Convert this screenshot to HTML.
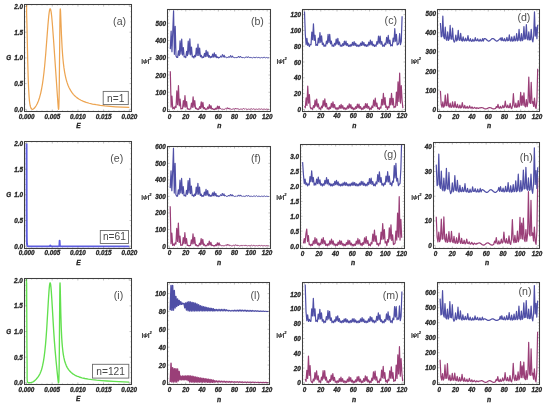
<!DOCTYPE html><html><head><meta charset="utf-8"><style>html,body{margin:0;padding:0;background:#fff;}svg{display:block;will-change:transform;}</style></head><body><svg width="550" height="406" viewBox="0 0 550 406" font-family="&quot;Liberation Sans&quot;, sans-serif">
<rect width="550" height="406" fill="#fff"/>
<clipPath id="ca"><rect x="24.5" y="4.6" width="106.80000000000001" height="106.60000000000001"/></clipPath>
<g clip-path="url(#ca)">
<path d="M26.60 4.00 L26.60 12.68 L26.95 24.68 L27.73 61.31 L28.15 76.75 L28.58 88.10 L29.10 96.91 L29.39 100.31 L29.72 103.03 L30.08 105.23 L30.49 106.89 L30.95 108.11 L31.48 108.89 L31.99 109.23 L32.56 109.29 L33.20 109.07 L33.92 108.56 L34.69 107.77 L35.49 106.74 L36.29 105.50 L37.06 104.07 L37.73 102.62 L38.38 101.04 L39.58 97.46 L40.67 93.30 L41.67 88.50 L42.47 83.80 L43.23 78.48 L43.96 72.52 L44.67 65.74 L45.71 54.03 L47.89 25.62 L48.76 15.91 L49.14 12.73 L49.50 10.52 L49.85 9.21 L50.02 8.87 L50.19 8.76 L50.31 8.81 L50.43 8.97 L50.67 9.60 L51.17 12.16 L51.70 16.54 L52.29 23.00 L53.53 39.60 L57.98 104.07 L58.30 107.88 L58.43 108.87 L58.54 109.28 L58.63 109.20 L58.71 108.71 L58.86 106.45 L59.12 96.59 L59.35 79.04 L59.90 22.32 L60.09 12.12 L60.19 9.59 L60.30 8.76 L60.43 9.55 L60.57 12.12 L61.47 35.11 L62.14 48.14 L62.53 53.84 L62.96 59.00 L63.44 63.66 L63.97 67.89 L64.61 72.07 L65.34 75.87 L66.14 79.30 L67.04 82.40 L68.02 85.17 L69.11 87.67 L70.57 90.40 L71.84 92.40 L73.34 94.33 L74.98 96.07 L76.80 97.62 L78.81 99.02 L81.03 100.27 L83.48 101.38 L86.19 102.37 L89.20 103.25 L92.52 104.03 L96.20 104.72 L100.30 105.34 L104.87 105.88 L109.98 106.36 L115.69 106.78 L122.10 107.16 L129.30 107.49" fill="none" stroke="#eda552" stroke-width="1.25" stroke-linejoin="round" stroke-opacity="1.0"/>
</g>
<rect x="24.50" y="4.50" width="107.00" height="107.00" fill="none" stroke="#404040" stroke-width="1.05"/>
<path d="M26.60 111.50v-2.0M26.60 4.50v2.0M52.28 111.50v-2.0M52.28 4.50v2.0M77.95 111.50v-2.0M77.95 4.50v2.0M103.62 111.50v-2.0M103.62 4.50v2.0M129.30 111.50v-2.0M129.30 4.50v2.0M31.74 111.50v-1.0M31.74 4.50v1.0M36.87 111.50v-1.0M36.87 4.50v1.0M42.01 111.50v-1.0M42.01 4.50v1.0M47.14 111.50v-1.0M47.14 4.50v1.0M57.41 111.50v-1.0M57.41 4.50v1.0M62.55 111.50v-1.0M62.55 4.50v1.0M67.68 111.50v-1.0M67.68 4.50v1.0M72.82 111.50v-1.0M72.82 4.50v1.0M83.09 111.50v-1.0M83.09 4.50v1.0M88.22 111.50v-1.0M88.22 4.50v1.0M93.36 111.50v-1.0M93.36 4.50v1.0M98.49 111.50v-1.0M98.49 4.50v1.0M108.76 111.50v-1.0M108.76 4.50v1.0M113.90 111.50v-1.0M113.90 4.50v1.0M119.03 111.50v-1.0M119.03 4.50v1.0M124.17 111.50v-1.0M124.17 4.50v1.0M24.50 109.30h2.0M131.50 109.30h-2.0M24.50 83.60h2.0M131.50 83.60h-2.0M24.50 57.90h2.0M131.50 57.90h-2.0M24.50 32.20h2.0M131.50 32.20h-2.0M24.50 6.50h2.0M131.50 6.50h-2.0M24.50 104.16h1.0M131.50 104.16h-1.0M24.50 99.02h1.0M131.50 99.02h-1.0M24.50 93.88h1.0M131.50 93.88h-1.0M24.50 88.74h1.0M131.50 88.74h-1.0M24.50 78.46h1.0M131.50 78.46h-1.0M24.50 73.32h1.0M131.50 73.32h-1.0M24.50 68.18h1.0M131.50 68.18h-1.0M24.50 63.04h1.0M131.50 63.04h-1.0M24.50 52.76h1.0M131.50 52.76h-1.0M24.50 47.62h1.0M131.50 47.62h-1.0M24.50 42.48h1.0M131.50 42.48h-1.0M24.50 37.34h1.0M131.50 37.34h-1.0M24.50 27.06h1.0M131.50 27.06h-1.0M24.50 21.92h1.0M131.50 21.92h-1.0M24.50 16.78h1.0M131.50 16.78h-1.0M24.50 11.64h1.0M131.50 11.64h-1.0" stroke="#404040" stroke-width="0.4" stroke-opacity="0.8" fill="none"/>
<text x="26.60" y="118.50" font-size="6.3" text-anchor="middle" font-weight="bold" font-style="italic" fill="#262626"  stroke="#262626" stroke-width="0.3">0.000</text>
<text x="52.28" y="118.50" font-size="6.3" text-anchor="middle" font-weight="bold" font-style="italic" fill="#262626"  stroke="#262626" stroke-width="0.3">0.005</text>
<text x="77.95" y="118.50" font-size="6.3" text-anchor="middle" font-weight="bold" font-style="italic" fill="#262626"  stroke="#262626" stroke-width="0.3">0.010</text>
<text x="103.62" y="118.50" font-size="6.3" text-anchor="middle" font-weight="bold" font-style="italic" fill="#262626"  stroke="#262626" stroke-width="0.3">0.015</text>
<text x="129.30" y="118.50" font-size="6.3" text-anchor="middle" font-weight="bold" font-style="italic" fill="#262626"  stroke="#262626" stroke-width="0.3">0.020</text>
<text x="22.90" y="111.85" font-size="6.3" text-anchor="end" font-weight="bold" font-style="italic" fill="#262626"  stroke="#262626" stroke-width="0.3">0.0</text>
<text x="22.90" y="86.15" font-size="6.3" text-anchor="end" font-weight="bold" font-style="italic" fill="#262626"  stroke="#262626" stroke-width="0.3">0.5</text>
<text x="22.90" y="60.45" font-size="6.3" text-anchor="end" font-weight="bold" font-style="italic" fill="#262626"  stroke="#262626" stroke-width="0.3">1.0</text>
<text x="22.90" y="34.75" font-size="6.3" text-anchor="end" font-weight="bold" font-style="italic" fill="#262626"  stroke="#262626" stroke-width="0.3">1.5</text>
<text x="22.90" y="9.05" font-size="6.3" text-anchor="end" font-weight="bold" font-style="italic" fill="#262626"  stroke="#262626" stroke-width="0.3">2.0</text>
<text x="8.70" y="60.45" font-size="6.3" text-anchor="middle" font-weight="bold" font-style="italic" fill="#262626"  stroke="#262626" stroke-width="0.3">G</text>
<text x="78.40" y="127.70" font-size="6.6" text-anchor="middle" font-weight="bold" font-style="italic" fill="#262626"  stroke="#262626" stroke-width="0.3">E</text>
<text x="119.60" y="25.35" font-size="10.6" text-anchor="middle" font-weight="normal" font-style="normal" fill="#505050" >(a)</text>
<rect x="103.2" y="91.4" width="25.10000000000001" height="13.199999999999989" fill="#fff" stroke="#6a6a6a" stroke-width="0.9"/>
<text x="115.75" y="101.50" font-size="10.2" text-anchor="middle" font-weight="normal" font-style="normal" fill="#4a4a4a" >n=1</text>
<clipPath id="ce"><rect x="24.5" y="141.5" width="106.80000000000001" height="106.6"/></clipPath>
<g clip-path="url(#ce)">
<path d="M26.60 143.61 L26.69 212.22 L26.78 235.59 L26.86 240.81 L26.97 243.70 L27.17 245.22 L27.32 245.66 L27.52 245.95 L27.81 246.14 L28.24 246.26 L29.94 246.37 L49.29 246.40 L49.57 246.37 L49.75 246.27 L50.18 245.58 L50.32 245.48 L50.47 245.59 L50.86 246.24 L51.20 246.39 L56.98 246.39 L58.58 246.32 L58.89 246.23 L59.09 246.09 L59.23 245.85 L59.33 245.48 L59.46 244.24 L59.62 240.75 L59.79 244.37 L59.94 245.62 L60.06 245.96 L60.23 246.17 L60.50 246.29 L60.93 246.35 L65.83 246.40 L129.30 246.41" fill="none" stroke="#5e5ee0" stroke-width="1.9" stroke-linejoin="round" stroke-opacity="1.0"/>
</g>
<rect x="24.50" y="141.50" width="107.00" height="107.00" fill="none" stroke="#404040" stroke-width="1.05"/>
<path d="M26.60 248.50v-2.0M26.60 141.50v2.0M52.28 248.50v-2.0M52.28 141.50v2.0M77.95 248.50v-2.0M77.95 141.50v2.0M103.62 248.50v-2.0M103.62 141.50v2.0M129.30 248.50v-2.0M129.30 141.50v2.0M31.74 248.50v-1.0M31.74 141.50v1.0M36.87 248.50v-1.0M36.87 141.50v1.0M42.01 248.50v-1.0M42.01 141.50v1.0M47.14 248.50v-1.0M47.14 141.50v1.0M57.41 248.50v-1.0M57.41 141.50v1.0M62.55 248.50v-1.0M62.55 141.50v1.0M67.68 248.50v-1.0M67.68 141.50v1.0M72.82 248.50v-1.0M72.82 141.50v1.0M83.09 248.50v-1.0M83.09 141.50v1.0M88.22 248.50v-1.0M88.22 141.50v1.0M93.36 248.50v-1.0M93.36 141.50v1.0M98.49 248.50v-1.0M98.49 141.50v1.0M108.76 248.50v-1.0M108.76 141.50v1.0M113.90 248.50v-1.0M113.90 141.50v1.0M119.03 248.50v-1.0M119.03 141.50v1.0M124.17 248.50v-1.0M124.17 141.50v1.0M24.50 246.20h2.0M131.50 246.20h-2.0M24.50 220.50h2.0M131.50 220.50h-2.0M24.50 194.80h2.0M131.50 194.80h-2.0M24.50 169.10h2.0M131.50 169.10h-2.0M24.50 143.40h2.0M131.50 143.40h-2.0M24.50 241.06h1.0M131.50 241.06h-1.0M24.50 235.92h1.0M131.50 235.92h-1.0M24.50 230.78h1.0M131.50 230.78h-1.0M24.50 225.64h1.0M131.50 225.64h-1.0M24.50 215.36h1.0M131.50 215.36h-1.0M24.50 210.22h1.0M131.50 210.22h-1.0M24.50 205.08h1.0M131.50 205.08h-1.0M24.50 199.94h1.0M131.50 199.94h-1.0M24.50 189.66h1.0M131.50 189.66h-1.0M24.50 184.52h1.0M131.50 184.52h-1.0M24.50 179.38h1.0M131.50 179.38h-1.0M24.50 174.24h1.0M131.50 174.24h-1.0M24.50 163.96h1.0M131.50 163.96h-1.0M24.50 158.82h1.0M131.50 158.82h-1.0M24.50 153.68h1.0M131.50 153.68h-1.0M24.50 148.54h1.0M131.50 148.54h-1.0" stroke="#404040" stroke-width="0.4" stroke-opacity="0.8" fill="none"/>
<text x="26.60" y="255.40" font-size="6.3" text-anchor="middle" font-weight="bold" font-style="italic" fill="#262626"  stroke="#262626" stroke-width="0.3">0.000</text>
<text x="52.28" y="255.40" font-size="6.3" text-anchor="middle" font-weight="bold" font-style="italic" fill="#262626"  stroke="#262626" stroke-width="0.3">0.005</text>
<text x="77.95" y="255.40" font-size="6.3" text-anchor="middle" font-weight="bold" font-style="italic" fill="#262626"  stroke="#262626" stroke-width="0.3">0.010</text>
<text x="103.62" y="255.40" font-size="6.3" text-anchor="middle" font-weight="bold" font-style="italic" fill="#262626"  stroke="#262626" stroke-width="0.3">0.015</text>
<text x="129.30" y="255.40" font-size="6.3" text-anchor="middle" font-weight="bold" font-style="italic" fill="#262626"  stroke="#262626" stroke-width="0.3">0.020</text>
<text x="22.90" y="248.75" font-size="6.3" text-anchor="end" font-weight="bold" font-style="italic" fill="#262626"  stroke="#262626" stroke-width="0.3">0.0</text>
<text x="22.90" y="223.05" font-size="6.3" text-anchor="end" font-weight="bold" font-style="italic" fill="#262626"  stroke="#262626" stroke-width="0.3">0.5</text>
<text x="22.90" y="197.35" font-size="6.3" text-anchor="end" font-weight="bold" font-style="italic" fill="#262626"  stroke="#262626" stroke-width="0.3">1.0</text>
<text x="22.90" y="171.65" font-size="6.3" text-anchor="end" font-weight="bold" font-style="italic" fill="#262626"  stroke="#262626" stroke-width="0.3">1.5</text>
<text x="22.90" y="145.95" font-size="6.3" text-anchor="end" font-weight="bold" font-style="italic" fill="#262626"  stroke="#262626" stroke-width="0.3">2.0</text>
<text x="8.70" y="197.35" font-size="6.3" text-anchor="middle" font-weight="bold" font-style="italic" fill="#262626"  stroke="#262626" stroke-width="0.3">G</text>
<text x="78.40" y="264.60" font-size="6.6" text-anchor="middle" font-weight="bold" font-style="italic" fill="#262626"  stroke="#262626" stroke-width="0.3">E</text>
<text x="116.70" y="162.05" font-size="10.6" text-anchor="middle" font-weight="normal" font-style="normal" fill="#505050" >(e)</text>
<rect x="100.3" y="230.5" width="28.200000000000003" height="13.0" fill="#fff" stroke="#6a6a6a" stroke-width="0.9"/>
<text x="114.40" y="240.40" font-size="10.2" text-anchor="middle" font-weight="normal" font-style="normal" fill="#4a4a4a" >n=61</text>
<clipPath id="ci"><rect x="24.4" y="278.4" width="106.79999999999998" height="106.30000000000001"/></clipPath>
<g clip-path="url(#ci)">
<path d="M26.50 277.50 L26.50 305.18 L26.64 282.87 L26.93 347.01 L27.11 367.86 L27.12 378.42 L27.23 380.13 L27.38 381.34 L27.57 382.09 L27.83 382.53 L28.06 382.70 L28.36 382.78 L29.41 382.76 L31.11 382.50 L32.47 382.08 L33.46 381.59 L34.42 380.93 L35.36 380.10 L36.35 379.04 L37.90 377.16 L38.56 376.24 L39.34 374.97 L40.07 373.54 L40.78 371.83 L41.44 369.94 L42.05 367.84 L42.62 365.48 L43.44 361.36 L44.18 356.58 L44.86 351.01 L45.51 344.56 L46.13 337.07 L46.75 328.22 L48.47 299.04 L49.00 291.04 L49.31 287.41 L49.59 284.86 L49.87 283.37 L50.00 282.99 L50.14 282.86 L50.28 282.99 L50.41 283.38 L50.70 284.99 L51.00 287.69 L51.32 291.62 L51.87 299.92 L53.71 331.13 L54.39 341.09 L55.10 350.15 L56.08 361.04 L57.62 376.39 L58.16 381.17 L58.34 382.29 L58.49 382.77 L58.54 382.80 L58.60 382.70 L58.70 382.18 L58.87 379.73 L59.14 368.53 L59.36 349.03 L59.77 294.82 L59.89 285.87 L60.03 282.86 L60.21 286.67 L60.79 312.83 L61.21 326.90 L61.75 338.37 L62.07 343.11 L62.43 347.30 L62.87 351.30 L63.38 354.82 L63.95 357.93 L64.61 360.72 L65.40 363.31 L66.28 365.59 L67.27 367.61 L68.40 369.42 L69.71 371.09 L71.19 372.57 L72.86 373.88 L74.74 375.04 L76.86 376.07 L79.24 376.98 L81.94 377.79 L84.97 378.50 L88.37 379.13 L92.22 379.68 L96.58 380.18 L101.52 380.63 L107.13 381.04 L113.53 381.41 L129.20 382.07" fill="none" stroke="#62e04e" stroke-width="1.35" stroke-linejoin="round" stroke-opacity="1.0"/>
</g>
<rect x="24.50" y="278.50" width="107.00" height="106.00" fill="none" stroke="#404040" stroke-width="1.05"/>
<path d="M26.50 384.50v-2.0M26.50 278.50v2.0M52.17 384.50v-2.0M52.17 278.50v2.0M77.85 384.50v-2.0M77.85 278.50v2.0M103.52 384.50v-2.0M103.52 278.50v2.0M129.20 384.50v-2.0M129.20 278.50v2.0M31.63 384.50v-1.0M31.63 278.50v1.0M36.77 384.50v-1.0M36.77 278.50v1.0M41.90 384.50v-1.0M41.90 278.50v1.0M47.04 384.50v-1.0M47.04 278.50v1.0M57.31 384.50v-1.0M57.31 278.50v1.0M62.44 384.50v-1.0M62.44 278.50v1.0M67.58 384.50v-1.0M67.58 278.50v1.0M72.72 384.50v-1.0M72.72 278.50v1.0M82.98 384.50v-1.0M82.98 278.50v1.0M88.12 384.50v-1.0M88.12 278.50v1.0M93.25 384.50v-1.0M93.25 278.50v1.0M98.39 384.50v-1.0M98.39 278.50v1.0M108.66 384.50v-1.0M108.66 278.50v1.0M113.79 384.50v-1.0M113.79 278.50v1.0M118.93 384.50v-1.0M118.93 278.50v1.0M124.06 384.50v-1.0M124.06 278.50v1.0M24.50 382.80h2.0M131.50 382.80h-2.0M24.50 357.18h2.0M131.50 357.18h-2.0M24.50 331.55h2.0M131.50 331.55h-2.0M24.50 305.92h2.0M131.50 305.92h-2.0M24.50 280.30h2.0M131.50 280.30h-2.0M24.50 377.68h1.0M131.50 377.68h-1.0M24.50 372.55h1.0M131.50 372.55h-1.0M24.50 367.43h1.0M131.50 367.43h-1.0M24.50 362.30h1.0M131.50 362.30h-1.0M24.50 352.05h1.0M131.50 352.05h-1.0M24.50 346.93h1.0M131.50 346.93h-1.0M24.50 341.80h1.0M131.50 341.80h-1.0M24.50 336.67h1.0M131.50 336.67h-1.0M24.50 326.42h1.0M131.50 326.42h-1.0M24.50 321.30h1.0M131.50 321.30h-1.0M24.50 316.17h1.0M131.50 316.17h-1.0M24.50 311.05h1.0M131.50 311.05h-1.0M24.50 300.80h1.0M131.50 300.80h-1.0M24.50 295.67h1.0M131.50 295.67h-1.0M24.50 290.55h1.0M131.50 290.55h-1.0M24.50 285.42h1.0M131.50 285.42h-1.0" stroke="#404040" stroke-width="0.4" stroke-opacity="0.8" fill="none"/>
<text x="26.50" y="392.00" font-size="6.3" text-anchor="middle" font-weight="bold" font-style="italic" fill="#262626"  stroke="#262626" stroke-width="0.3">0.000</text>
<text x="52.17" y="392.00" font-size="6.3" text-anchor="middle" font-weight="bold" font-style="italic" fill="#262626"  stroke="#262626" stroke-width="0.3">0.005</text>
<text x="77.85" y="392.00" font-size="6.3" text-anchor="middle" font-weight="bold" font-style="italic" fill="#262626"  stroke="#262626" stroke-width="0.3">0.010</text>
<text x="103.52" y="392.00" font-size="6.3" text-anchor="middle" font-weight="bold" font-style="italic" fill="#262626"  stroke="#262626" stroke-width="0.3">0.015</text>
<text x="129.20" y="392.00" font-size="6.3" text-anchor="middle" font-weight="bold" font-style="italic" fill="#262626"  stroke="#262626" stroke-width="0.3">0.020</text>
<text x="22.80" y="385.35" font-size="6.3" text-anchor="end" font-weight="bold" font-style="italic" fill="#262626"  stroke="#262626" stroke-width="0.3">0.0</text>
<text x="22.80" y="359.73" font-size="6.3" text-anchor="end" font-weight="bold" font-style="italic" fill="#262626"  stroke="#262626" stroke-width="0.3">0.5</text>
<text x="22.80" y="334.10" font-size="6.3" text-anchor="end" font-weight="bold" font-style="italic" fill="#262626"  stroke="#262626" stroke-width="0.3">1.0</text>
<text x="22.80" y="308.47" font-size="6.3" text-anchor="end" font-weight="bold" font-style="italic" fill="#262626"  stroke="#262626" stroke-width="0.3">1.5</text>
<text x="22.80" y="282.85" font-size="6.3" text-anchor="end" font-weight="bold" font-style="italic" fill="#262626"  stroke="#262626" stroke-width="0.3">2.0</text>
<text x="8.60" y="334.10" font-size="6.3" text-anchor="middle" font-weight="bold" font-style="italic" fill="#262626"  stroke="#262626" stroke-width="0.3">G</text>
<text x="78.30" y="401.20" font-size="6.6" text-anchor="middle" font-weight="bold" font-style="italic" fill="#262626"  stroke="#262626" stroke-width="0.3">E</text>
<text x="118.50" y="298.75" font-size="10.6" text-anchor="middle" font-weight="normal" font-style="normal" fill="#505050" >(i)</text>
<rect x="92.5" y="364.3" width="36.30000000000001" height="13.800000000000011" fill="#fff" stroke="#6a6a6a" stroke-width="0.9"/>
<text x="110.65" y="375.00" font-size="10.2" text-anchor="middle" font-weight="normal" font-style="normal" fill="#4a4a4a" >n=121</text>
<clipPath id="cb"><rect x="167.5" y="9.4" width="102.60000000000002" height="101.89999999999999"/></clipPath>
<g clip-path="url(#cb)">
<path d="M170.31 71.21 L171.13 107.08 L171.94 96.05 L172.76 108.81 L173.57 107.43 L174.38 108.98 L175.20 106.24 L176.01 107.42 L176.83 90.96 L177.64 104.73 L178.46 85.65 L179.27 105.79 L180.08 99.09 L180.90 108.85 L181.71 108.49 L182.53 108.66 L183.34 100.71 L184.16 106.98 L184.97 95.63 L185.78 107.10 L186.60 101.64 L187.41 108.82 L188.23 108.81 L189.04 109.41 L189.85 109.01 L190.67 109.00 L191.48 103.08 L192.30 107.41 L193.11 96.78 L193.93 107.08 L194.74 100.53 L195.55 108.56 L196.37 108.13 L197.18 109.41 L198.00 109.07 L198.81 109.32 L199.62 106.59 L200.44 108.38 L201.25 101.74 L202.07 107.83 L202.88 102.45 L203.70 108.59 L204.51 107.54 L205.32 109.40 L206.14 109.06 L206.95 109.28 L207.77 106.98 L208.58 108.69 L209.39 104.50 L210.21 108.52 L211.02 105.72 L211.84 109.06 L212.65 108.62 L213.47 109.41 L214.28 109.07 L215.09 109.39 L215.91 108.15 L216.72 109.01 L217.54 106.10 L218.35 108.76 L219.16 106.25 L219.98 109.05" fill="none" stroke="#9a3f78" stroke-width="1.2" stroke-linejoin="round" stroke-opacity="1.0"/>
<path d="M219.98 109.05 L220.79 108.35 L221.61 109.40 L222.42 109.07 L223.24 109.41 L224.05 109.07 L224.86 109.38 L225.68 108.43 L226.49 109.18 L227.31 107.56 L228.12 109.11 L228.93 107.90 L229.75 109.29 L230.56 108.89 L231.38 109.41 L232.19 109.07 L233.01 109.39 L233.82 108.64 L234.63 109.26 L235.45 108.06 L236.26 109.21 L237.08 108.29 L237.89 109.33 L238.70 108.95 L239.52 109.41 L240.33 109.07 L241.15 109.40 L241.96 108.78 L242.78 109.31 L243.59 108.40 L244.40 109.28 L245.22 108.55 L246.03 109.36 L246.85 108.99 L247.66 109.41 L248.47 109.07 L249.29 109.40 L250.10 108.89 L250.92 109.35 L251.73 108.65 L252.55 109.33 L253.36 108.75 L254.17 109.38 L254.99 109.02 L255.80 109.41 L256.62 109.07 L257.43 109.41 L258.24 108.96 L259.06 109.37 L259.87 108.82 L260.69 109.36 L261.50 108.87 L262.32 109.39 L263.13 109.04 L263.94 109.41 L264.76 109.07 L265.57 109.41 L266.39 109.07 L267.20 109.41 L268.01 109.07 L268.83 109.41" fill="none" stroke="#9a3f78" stroke-width="1.0" stroke-linejoin="round" stroke-opacity="1.0"/>
<path d="M170.31 49.13 L171.13 31.01 L171.94 51.71 L172.76 31.88 L173.57 10.83 L174.38 54.30 L175.20 26.36 L176.01 56.03 L176.83 57.41 L177.64 57.49 L178.46 50.90 L179.27 55.50 L180.08 40.80 L180.90 54.09 L181.71 39.02 L182.53 54.90 L183.34 47.64 L184.16 56.99 L184.97 56.57 L185.78 57.55 L186.60 51.42 L187.41 55.61 L188.23 41.19 L189.04 54.11 L189.85 38.82 L190.67 54.81 L191.48 47.09 L192.30 56.89 L193.11 56.33 L193.93 57.87 L194.74 55.26 L195.55 56.77 L196.37 48.06 L197.18 55.45 L198.00 44.12 L198.81 55.45 L199.62 48.06 L200.44 56.77 L201.25 55.26 L202.07 57.87 L202.88 56.89 L203.70 57.46 L204.51 53.24 L205.32 56.69 L206.14 50.43 L206.95 56.52 L207.77 51.74 L208.58 57.14 L209.39 55.65 L210.21 57.79 L211.02 56.56 L211.84 57.47 L212.65 54.05 L213.47 57.04 L214.28 52.94 L215.09 57.10 L215.91 54.53 L216.72 57.58 L217.54 56.96 L218.35 57.92 L219.16 57.32 L219.98 57.73" fill="none" stroke="#4f4fa6" stroke-width="1.2" stroke-linejoin="round" stroke-opacity="1.0"/>
<path d="M219.98 57.73 L220.79 55.71 L221.61 57.38 L222.42 54.37 L223.24 57.28 L224.05 54.87 L224.86 57.55 L225.68 56.62 L226.49 57.87 L227.31 57.40 L228.12 57.79 L228.93 56.30 L229.75 57.55 L230.56 55.38 L231.38 57.48 L232.19 55.72 L233.01 57.67 L233.82 56.92 L234.63 57.89 L235.45 57.55 L236.26 57.87 L237.08 56.91 L237.89 57.70 L238.70 56.15 L239.52 57.61 L240.33 56.15 L241.15 57.70 L241.96 56.91 L242.78 57.87 L243.59 57.53 L244.40 57.89 L245.22 57.13 L246.03 57.78 L246.85 56.62 L247.66 57.72 L248.47 56.62 L249.29 57.78 L250.10 57.13 L250.92 57.89 L251.73 57.54 L252.55 57.90 L253.36 57.32 L254.17 57.84 L254.99 57.02 L255.80 57.80 L256.62 57.02 L257.43 57.84 L258.24 57.32 L259.06 57.90 L259.87 57.57 L260.69 57.92 L261.50 57.46 L262.32 57.88 L263.13 57.27 L263.94 57.85 L264.76 57.27 L265.57 57.88 L266.39 57.46 L267.20 57.92 L268.01 57.58 L268.83 57.92" fill="none" stroke="#4f4fa6" stroke-width="1.0" stroke-linejoin="round" stroke-opacity="1.0"/>
</g>
<rect x="167.50" y="9.50" width="103.00" height="102.00" fill="none" stroke="#404040" stroke-width="1.05"/>
<path d="M169.50 111.50v-2.0M169.50 9.50v2.0M185.78 111.50v-2.0M185.78 9.50v2.0M202.07 111.50v-2.0M202.07 9.50v2.0M218.35 111.50v-2.0M218.35 9.50v2.0M234.63 111.50v-2.0M234.63 9.50v2.0M250.92 111.50v-2.0M250.92 9.50v2.0M267.20 111.50v-2.0M267.20 9.50v2.0M173.57 111.50v-1.0M173.57 9.50v1.0M177.64 111.50v-1.0M177.64 9.50v1.0M181.71 111.50v-1.0M181.71 9.50v1.0M189.85 111.50v-1.0M189.85 9.50v1.0M193.93 111.50v-1.0M193.93 9.50v1.0M198.00 111.50v-1.0M198.00 9.50v1.0M206.14 111.50v-1.0M206.14 9.50v1.0M210.21 111.50v-1.0M210.21 9.50v1.0M214.28 111.50v-1.0M214.28 9.50v1.0M222.42 111.50v-1.0M222.42 9.50v1.0M226.49 111.50v-1.0M226.49 9.50v1.0M230.56 111.50v-1.0M230.56 9.50v1.0M238.70 111.50v-1.0M238.70 9.50v1.0M242.78 111.50v-1.0M242.78 9.50v1.0M246.85 111.50v-1.0M246.85 9.50v1.0M254.99 111.50v-1.0M254.99 9.50v1.0M259.06 111.50v-1.0M259.06 9.50v1.0M263.13 111.50v-1.0M263.13 9.50v1.0M167.50 109.50h2.0M270.50 109.50h-2.0M167.50 92.25h2.0M270.50 92.25h-2.0M167.50 75.00h2.0M270.50 75.00h-2.0M167.50 57.75h2.0M270.50 57.75h-2.0M167.50 40.50h2.0M270.50 40.50h-2.0M167.50 23.25h2.0M270.50 23.25h-2.0M167.50 106.05h1.0M270.50 106.05h-1.0M167.50 102.60h1.0M270.50 102.60h-1.0M167.50 99.15h1.0M270.50 99.15h-1.0M167.50 95.70h1.0M270.50 95.70h-1.0M167.50 88.80h1.0M270.50 88.80h-1.0M167.50 85.35h1.0M270.50 85.35h-1.0M167.50 81.90h1.0M270.50 81.90h-1.0M167.50 78.45h1.0M270.50 78.45h-1.0M167.50 71.55h1.0M270.50 71.55h-1.0M167.50 68.10h1.0M270.50 68.10h-1.0M167.50 64.65h1.0M270.50 64.65h-1.0M167.50 61.20h1.0M270.50 61.20h-1.0M167.50 54.30h1.0M270.50 54.30h-1.0M167.50 50.85h1.0M270.50 50.85h-1.0M167.50 47.40h1.0M270.50 47.40h-1.0M167.50 43.95h1.0M270.50 43.95h-1.0M167.50 37.05h1.0M270.50 37.05h-1.0M167.50 33.60h1.0M270.50 33.60h-1.0M167.50 30.15h1.0M270.50 30.15h-1.0M167.50 26.70h1.0M270.50 26.70h-1.0M167.50 19.80h1.0M270.50 19.80h-1.0M167.50 16.35h1.0M270.50 16.35h-1.0M167.50 12.90h1.0M270.50 12.90h-1.0M167.50 9.45h1.0M270.50 9.45h-1.0" stroke="#404040" stroke-width="0.4" stroke-opacity="0.8" fill="none"/>
<text x="169.50" y="118.60" font-size="6.3" text-anchor="middle" font-weight="bold" font-style="italic" fill="#262626"  stroke="#262626" stroke-width="0.3">0</text>
<text x="185.78" y="118.60" font-size="6.3" text-anchor="middle" font-weight="bold" font-style="italic" fill="#262626"  stroke="#262626" stroke-width="0.3">20</text>
<text x="202.07" y="118.60" font-size="6.3" text-anchor="middle" font-weight="bold" font-style="italic" fill="#262626"  stroke="#262626" stroke-width="0.3">40</text>
<text x="218.35" y="118.60" font-size="6.3" text-anchor="middle" font-weight="bold" font-style="italic" fill="#262626"  stroke="#262626" stroke-width="0.3">60</text>
<text x="234.63" y="118.60" font-size="6.3" text-anchor="middle" font-weight="bold" font-style="italic" fill="#262626"  stroke="#262626" stroke-width="0.3">80</text>
<text x="250.92" y="118.60" font-size="6.3" text-anchor="middle" font-weight="bold" font-style="italic" fill="#262626"  stroke="#262626" stroke-width="0.3">100</text>
<text x="267.20" y="118.60" font-size="6.3" text-anchor="middle" font-weight="bold" font-style="italic" fill="#262626"  stroke="#262626" stroke-width="0.3">120</text>
<text x="165.90" y="112.05" font-size="6.3" text-anchor="end" font-weight="bold" font-style="italic" fill="#262626"  stroke="#262626" stroke-width="0.3">0</text>
<text x="165.90" y="94.80" font-size="6.3" text-anchor="end" font-weight="bold" font-style="italic" fill="#262626"  stroke="#262626" stroke-width="0.3">100</text>
<text x="165.90" y="77.55" font-size="6.3" text-anchor="end" font-weight="bold" font-style="italic" fill="#262626"  stroke="#262626" stroke-width="0.3">200</text>
<text x="165.90" y="60.30" font-size="6.3" text-anchor="end" font-weight="bold" font-style="italic" fill="#262626"  stroke="#262626" stroke-width="0.3">300</text>
<text x="165.90" y="43.05" font-size="6.3" text-anchor="end" font-weight="bold" font-style="italic" fill="#262626"  stroke="#262626" stroke-width="0.3">400</text>
<text x="165.90" y="25.80" font-size="6.3" text-anchor="end" font-weight="bold" font-style="italic" fill="#262626"  stroke="#262626" stroke-width="0.3">500</text>
<text x="219.30" y="128.40" font-size="6.8" text-anchor="middle" font-weight="bold" font-style="italic" fill="#262626"  stroke="#262626" stroke-width="0.3">n</text>
<text x="257.40" y="25.25" font-size="10.6" text-anchor="middle" font-weight="normal" font-style="normal" fill="#505050" >(b)</text>
<text x="141.30" y="63.00" font-size="5.9" font-weight="bold" font-style="italic" fill="#262626" stroke="#262626" stroke-width="0.15">|ψ|<tspan font-size="4.0" dy="-2.6">2</tspan></text>
<clipPath id="cf"><rect x="167.4" y="146.0" width="102.6" height="102.0"/></clipPath>
<g clip-path="url(#cf)">
<path d="M170.21 206.33 L171.03 243.69 L171.84 233.11 L172.66 245.34 L173.47 244.02 L174.28 245.50 L175.10 242.88 L175.91 244.01 L176.73 228.23 L177.54 241.43 L178.36 223.14 L179.17 242.45 L179.98 236.03 L180.80 245.38 L181.61 245.03 L182.43 245.19 L183.24 237.58 L184.06 243.58 L184.87 232.71 L185.68 243.70 L186.50 238.47 L187.31 245.35 L188.13 245.34 L188.94 245.92 L189.75 245.53 L190.57 245.52 L191.38 239.84 L192.20 243.99 L193.01 233.82 L193.83 243.68 L194.64 237.41 L195.45 245.09 L196.27 244.68 L197.08 245.92 L197.90 245.59 L198.71 245.83 L199.52 243.21 L200.34 244.92 L201.15 238.56 L201.97 244.40 L202.78 239.24 L203.60 245.13 L204.41 244.13 L205.22 245.90 L206.04 245.58 L206.85 245.79 L207.67 243.59 L208.48 245.22 L209.29 241.21 L210.11 245.06 L210.92 242.38 L211.74 245.58 L212.55 245.16 L213.37 245.92 L214.18 245.59 L214.99 245.89 L215.81 244.70 L216.62 245.53 L217.44 242.75 L218.25 245.29 L219.06 242.89 L219.88 245.57" fill="none" stroke="#9a3f78" stroke-width="1.2" stroke-linejoin="round" stroke-opacity="1.0"/>
<path d="M219.88 245.57 L220.69 244.89 L221.51 245.91 L222.32 245.59 L223.14 245.92 L223.95 245.59 L224.76 245.88 L225.58 244.97 L226.39 245.69 L227.21 244.14 L228.02 245.63 L228.83 244.47 L229.65 245.79 L230.46 245.41 L231.28 245.92 L232.09 245.59 L232.91 245.89 L233.72 245.18 L234.53 245.77 L235.35 244.62 L236.16 245.72 L236.98 244.84 L237.79 245.84 L238.60 245.47 L239.42 245.92 L240.23 245.59 L241.05 245.90 L241.86 245.31 L242.68 245.82 L243.49 244.95 L244.30 245.79 L245.12 245.09 L245.93 245.86 L246.75 245.51 L247.56 245.92 L248.37 245.59 L249.19 245.91 L250.00 245.42 L250.82 245.86 L251.63 245.19 L252.45 245.84 L253.26 245.28 L254.07 245.88 L254.89 245.54 L255.70 245.92 L256.52 245.59 L257.33 245.91 L258.14 245.48 L258.96 245.88 L259.77 245.35 L260.59 245.87 L261.40 245.40 L262.22 245.90 L263.03 245.56 L263.84 245.92 L264.66 245.59 L265.47 245.92 L266.29 245.59 L267.10 245.92 L267.91 245.59 L268.73 245.92" fill="none" stroke="#9a3f78" stroke-width="1.0" stroke-linejoin="round" stroke-opacity="1.0"/>
<path d="M170.21 188.14 L171.03 170.79 L171.84 190.62 L172.66 171.62 L173.47 148.47 L174.28 193.10 L175.10 163.35 L175.91 194.76 L176.73 196.08 L177.54 196.16 L178.36 189.85 L179.17 194.25 L179.98 180.17 L180.80 192.90 L181.61 178.46 L182.43 193.68 L183.24 186.72 L184.06 195.68 L184.87 195.28 L185.68 196.22 L186.50 190.35 L187.31 194.36 L188.13 180.54 L188.94 192.92 L189.75 178.27 L190.57 193.59 L191.38 186.20 L192.20 195.59 L193.01 195.05 L193.83 196.52 L194.64 194.02 L195.45 195.47 L196.27 187.12 L197.08 194.20 L197.90 183.35 L198.71 194.20 L199.52 187.12 L200.34 195.47 L201.15 194.02 L201.97 196.52 L202.78 195.58 L203.60 196.13 L204.41 192.08 L205.22 195.40 L206.04 189.39 L206.85 195.23 L207.67 190.65 L208.48 195.82 L209.29 194.39 L210.11 196.45 L210.92 195.27 L211.74 196.14 L212.55 192.86 L213.37 195.73 L214.18 191.80 L214.99 195.78 L215.81 193.32 L216.62 196.24 L217.44 195.66 L218.25 196.57 L219.06 196.00 L219.88 196.39" fill="none" stroke="#4f4fa6" stroke-width="1.2" stroke-linejoin="round" stroke-opacity="1.0"/>
<path d="M219.88 196.39 L220.69 194.45 L221.51 196.06 L222.32 193.17 L223.14 195.96 L223.95 193.65 L224.76 196.22 L225.58 195.33 L226.39 196.53 L227.21 196.07 L228.02 196.45 L228.83 195.02 L229.65 196.22 L230.46 194.14 L231.28 196.15 L232.09 194.47 L232.91 196.33 L233.72 195.62 L234.53 196.54 L235.35 196.21 L236.16 196.52 L236.98 195.61 L237.79 196.36 L238.60 194.88 L239.42 196.28 L240.23 194.88 L241.05 196.36 L241.86 195.61 L242.68 196.52 L243.49 196.19 L244.30 196.54 L245.12 195.82 L245.93 196.43 L246.75 195.33 L247.56 196.38 L248.37 195.33 L249.19 196.43 L250.00 195.82 L250.82 196.54 L251.63 196.21 L252.45 196.56 L253.26 196.00 L254.07 196.49 L254.89 195.71 L255.70 196.46 L256.52 195.71 L257.33 196.49 L258.14 196.00 L258.96 196.56 L259.77 196.23 L260.59 196.57 L261.40 196.13 L262.22 196.53 L263.03 195.95 L263.84 196.51 L264.66 195.95 L265.47 196.53 L266.29 196.13 L267.10 196.57 L267.91 196.24 L268.73 196.58" fill="none" stroke="#4f4fa6" stroke-width="1.0" stroke-linejoin="round" stroke-opacity="1.0"/>
</g>
<rect x="167.50" y="146.50" width="103.00" height="102.00" fill="none" stroke="#404040" stroke-width="1.05"/>
<path d="M169.40 248.50v-2.0M169.40 146.50v2.0M185.68 248.50v-2.0M185.68 146.50v2.0M201.97 248.50v-2.0M201.97 146.50v2.0M218.25 248.50v-2.0M218.25 146.50v2.0M234.53 248.50v-2.0M234.53 146.50v2.0M250.82 248.50v-2.0M250.82 146.50v2.0M267.10 248.50v-2.0M267.10 146.50v2.0M173.47 248.50v-1.0M173.47 146.50v1.0M177.54 248.50v-1.0M177.54 146.50v1.0M181.61 248.50v-1.0M181.61 146.50v1.0M189.75 248.50v-1.0M189.75 146.50v1.0M193.83 248.50v-1.0M193.83 146.50v1.0M197.90 248.50v-1.0M197.90 146.50v1.0M206.04 248.50v-1.0M206.04 146.50v1.0M210.11 248.50v-1.0M210.11 146.50v1.0M214.18 248.50v-1.0M214.18 146.50v1.0M222.32 248.50v-1.0M222.32 146.50v1.0M226.39 248.50v-1.0M226.39 146.50v1.0M230.46 248.50v-1.0M230.46 146.50v1.0M238.60 248.50v-1.0M238.60 146.50v1.0M242.68 248.50v-1.0M242.68 146.50v1.0M246.75 248.50v-1.0M246.75 146.50v1.0M254.89 248.50v-1.0M254.89 146.50v1.0M258.96 248.50v-1.0M258.96 146.50v1.0M263.03 248.50v-1.0M263.03 146.50v1.0M167.50 246.00h2.0M270.50 246.00h-2.0M167.50 229.47h2.0M270.50 229.47h-2.0M167.50 212.94h2.0M270.50 212.94h-2.0M167.50 196.41h2.0M270.50 196.41h-2.0M167.50 179.88h2.0M270.50 179.88h-2.0M167.50 163.35h2.0M270.50 163.35h-2.0M167.50 146.82h2.0M270.50 146.82h-2.0M167.50 242.69h1.0M270.50 242.69h-1.0M167.50 239.39h1.0M270.50 239.39h-1.0M167.50 236.08h1.0M270.50 236.08h-1.0M167.50 232.78h1.0M270.50 232.78h-1.0M167.50 226.16h1.0M270.50 226.16h-1.0M167.50 222.86h1.0M270.50 222.86h-1.0M167.50 219.55h1.0M270.50 219.55h-1.0M167.50 216.25h1.0M270.50 216.25h-1.0M167.50 209.63h1.0M270.50 209.63h-1.0M167.50 206.33h1.0M270.50 206.33h-1.0M167.50 203.02h1.0M270.50 203.02h-1.0M167.50 199.72h1.0M270.50 199.72h-1.0M167.50 193.10h1.0M270.50 193.10h-1.0M167.50 189.80h1.0M270.50 189.80h-1.0M167.50 186.49h1.0M270.50 186.49h-1.0M167.50 183.19h1.0M270.50 183.19h-1.0M167.50 176.57h1.0M270.50 176.57h-1.0M167.50 173.27h1.0M270.50 173.27h-1.0M167.50 169.96h1.0M270.50 169.96h-1.0M167.50 166.66h1.0M270.50 166.66h-1.0M167.50 160.04h1.0M270.50 160.04h-1.0M167.50 156.74h1.0M270.50 156.74h-1.0M167.50 153.43h1.0M270.50 153.43h-1.0M167.50 150.13h1.0M270.50 150.13h-1.0" stroke="#404040" stroke-width="0.4" stroke-opacity="0.8" fill="none"/>
<text x="169.40" y="255.30" font-size="6.3" text-anchor="middle" font-weight="bold" font-style="italic" fill="#262626"  stroke="#262626" stroke-width="0.3">0</text>
<text x="185.68" y="255.30" font-size="6.3" text-anchor="middle" font-weight="bold" font-style="italic" fill="#262626"  stroke="#262626" stroke-width="0.3">20</text>
<text x="201.97" y="255.30" font-size="6.3" text-anchor="middle" font-weight="bold" font-style="italic" fill="#262626"  stroke="#262626" stroke-width="0.3">40</text>
<text x="218.25" y="255.30" font-size="6.3" text-anchor="middle" font-weight="bold" font-style="italic" fill="#262626"  stroke="#262626" stroke-width="0.3">60</text>
<text x="234.53" y="255.30" font-size="6.3" text-anchor="middle" font-weight="bold" font-style="italic" fill="#262626"  stroke="#262626" stroke-width="0.3">80</text>
<text x="250.82" y="255.30" font-size="6.3" text-anchor="middle" font-weight="bold" font-style="italic" fill="#262626"  stroke="#262626" stroke-width="0.3">100</text>
<text x="267.10" y="255.30" font-size="6.3" text-anchor="middle" font-weight="bold" font-style="italic" fill="#262626"  stroke="#262626" stroke-width="0.3">120</text>
<text x="165.80" y="248.55" font-size="6.3" text-anchor="end" font-weight="bold" font-style="italic" fill="#262626"  stroke="#262626" stroke-width="0.3">0</text>
<text x="165.80" y="232.02" font-size="6.3" text-anchor="end" font-weight="bold" font-style="italic" fill="#262626"  stroke="#262626" stroke-width="0.3">100</text>
<text x="165.80" y="215.49" font-size="6.3" text-anchor="end" font-weight="bold" font-style="italic" fill="#262626"  stroke="#262626" stroke-width="0.3">200</text>
<text x="165.80" y="198.96" font-size="6.3" text-anchor="end" font-weight="bold" font-style="italic" fill="#262626"  stroke="#262626" stroke-width="0.3">300</text>
<text x="165.80" y="182.43" font-size="6.3" text-anchor="end" font-weight="bold" font-style="italic" fill="#262626"  stroke="#262626" stroke-width="0.3">400</text>
<text x="165.80" y="165.90" font-size="6.3" text-anchor="end" font-weight="bold" font-style="italic" fill="#262626"  stroke="#262626" stroke-width="0.3">500</text>
<text x="165.80" y="149.37" font-size="6.3" text-anchor="end" font-weight="bold" font-style="italic" fill="#262626"  stroke="#262626" stroke-width="0.3">600</text>
<text x="219.20" y="265.10" font-size="6.8" text-anchor="middle" font-weight="bold" font-style="italic" fill="#262626"  stroke="#262626" stroke-width="0.3">n</text>
<text x="255.90" y="161.75" font-size="10.6" text-anchor="middle" font-weight="normal" font-style="normal" fill="#505050" >(f)</text>
<text x="141.30" y="198.60" font-size="5.9" font-weight="bold" font-style="italic" fill="#262626" stroke="#262626" stroke-width="0.15">|ψ|<tspan font-size="4.0" dy="-2.6">2</tspan></text>
<clipPath id="cc"><rect x="302.5" y="9.0" width="102.5" height="102.1"/></clipPath>
<g clip-path="url(#cc)">
<path d="M304.50 106.24 L305.31 107.82 L306.13 97.95 L306.94 105.45 L307.75 86.09 L308.57 103.08 L309.38 94.63 L310.19 107.03 L311.01 108.77 L311.82 108.06 L312.63 109.32 L313.45 105.60 L314.26 107.61 L315.07 100.07 L315.89 106.19 L316.70 99.03 L317.51 107.02 L318.33 103.91 L319.14 108.96 L319.95 107.97 L320.77 109.40 L321.58 106.10 L322.39 107.82 L323.21 100.53 L324.02 106.24 L324.83 98.81 L325.65 106.84 L326.46 103.32 L327.27 108.80 L328.09 107.83 L328.90 109.46 L329.71 107.06 L330.53 108.51 L331.34 103.37 L332.15 107.37 L332.97 101.79 L333.78 107.62 L334.59 104.50 L335.41 108.91 L336.22 107.76 L337.03 109.48 L337.85 107.69 L338.66 109.02 L339.47 105.58 L340.29 108.28 L341.10 104.27 L341.91 108.28 L342.73 105.58 L343.54 109.02 L344.35 107.69 L345.17 109.48 L345.98 107.95 L346.79 109.17 L347.61 105.88 L348.42 108.27 L349.23 103.82 L350.05 108.00 L350.86 104.61 L351.67 108.72 L352.49 107.16 L353.30 109.44 L354.11 108.06 L354.93 109.34 L355.74 106.58 L356.55 108.50 L357.37 104.20 L358.18 107.99 L358.99 104.20 L359.81 108.50 L360.62 106.58 L361.43 109.34 L362.25 108.06 L363.06 109.32 L363.87 106.36 L364.69 108.36 L365.50 103.63 L366.31 107.76 L367.13 103.63 L367.94 108.36 L368.75 106.36 L369.57 109.32 L370.38 108.06 L371.19 109.39 L372.01 105.97 L372.82 107.71 L373.63 100.03 L374.45 106.03 L375.26 98.19 L376.07 106.67 L376.89 103.00 L377.70 108.75 L378.51 107.81 L379.33 109.48 L380.14 107.15 L380.95 108.00 L381.77 99.33 L382.58 105.03 L383.39 93.42 L384.21 104.65 L385.02 97.58 L385.83 107.39 L386.65 106.07 L387.46 109.46 L388.27 106.65 L389.09 107.70 L389.90 98.44 L390.71 104.83 L391.53 93.36 L392.34 104.83 L393.15 98.44 L393.97 107.70 L394.78 106.65 L395.59 107.03 L396.41 92.02 L397.22 105.45 L398.03 81.75 L398.85 101.50 L399.66 73.06 L400.47 103.08 L401.29 85.70 L402.10 100.71 L402.91 108.06" fill="none" stroke="#9a3f78" stroke-width="1.2" stroke-linejoin="round" stroke-opacity="1.0"/>
<path d="M304.50 11.44 L305.31 34.35 L306.13 44.62 L306.94 38.30 L307.75 45.41 L308.57 43.04 L309.38 46.52 L310.19 44.62 L311.01 44.65 L311.82 32.06 L312.63 39.70 L313.45 23.88 L314.26 40.46 L315.07 35.23 L315.89 45.52 L316.70 44.49 L317.51 45.37 L318.33 37.98 L319.14 42.79 L319.95 32.57 L320.77 42.30 L321.58 35.73 L322.39 44.58 L323.21 43.10 L324.02 46.48 L324.83 45.09 L325.65 46.12 L326.46 41.00 L327.27 43.80 L328.09 34.38 L328.90 42.37 L329.71 34.38 L330.53 43.80 L331.34 41.00 L332.15 46.12 L332.97 45.09 L333.78 46.40 L334.59 43.25 L335.41 45.12 L336.22 39.11 L337.03 44.05 L337.85 38.32 L338.66 44.67 L339.47 41.98 L340.29 46.12 L341.10 45.03 L341.91 46.37 L342.73 43.59 L343.54 45.52 L344.35 41.16 L345.17 45.00 L345.98 41.16 L346.79 45.52 L347.61 43.59 L348.42 46.37 L349.23 45.09 L350.05 46.50 L350.86 44.45 L351.67 45.93 L352.49 42.36 L353.30 45.32 L354.11 41.59 L354.93 45.50 L355.74 43.20 L356.55 46.23 L357.37 44.97 L358.18 46.52 L358.99 44.92 L359.81 46.19 L360.62 43.09 L361.43 45.47 L362.25 41.57 L363.06 45.33 L363.87 42.46 L364.69 45.97 L365.50 44.53 L366.31 46.50 L367.13 44.85 L367.94 46.05 L368.75 42.20 L369.57 45.00 L370.38 40.00 L371.19 44.80 L372.01 41.29 L372.82 45.73 L373.63 44.28 L374.45 46.50 L375.26 45.09 L376.07 46.19 L376.89 41.68 L377.70 44.25 L378.51 36.16 L379.33 43.06 L380.14 36.16 L380.95 44.25 L381.77 41.68 L382.58 46.19 L383.39 45.09 L384.21 46.43 L385.02 43.06 L385.83 44.79 L386.65 37.25 L387.46 43.14 L388.27 35.46 L389.09 43.77 L389.90 40.16 L390.71 45.80 L391.53 44.85 L392.34 45.88 L393.15 38.04 L393.97 41.98 L394.78 28.71 L395.59 41.10 L396.41 34.35 L397.22 44.87 L398.03 44.52 L398.85 43.04 L399.66 33.56 L400.47 44.62 L401.29 41.46 L402.10 16.18" fill="none" stroke="#4f4fa6" stroke-width="1.2" stroke-linejoin="round" stroke-opacity="1.0"/>
</g>
<rect x="302.50" y="9.50" width="103.00" height="102.00" fill="none" stroke="#404040" stroke-width="1.05"/>
<path d="M304.50 111.50v-2.0M304.50 9.50v2.0M320.77 111.50v-2.0M320.77 9.50v2.0M337.03 111.50v-2.0M337.03 9.50v2.0M353.30 111.50v-2.0M353.30 9.50v2.0M369.57 111.50v-2.0M369.57 9.50v2.0M385.83 111.50v-2.0M385.83 9.50v2.0M402.10 111.50v-2.0M402.10 9.50v2.0M308.57 111.50v-1.0M308.57 9.50v1.0M312.63 111.50v-1.0M312.63 9.50v1.0M316.70 111.50v-1.0M316.70 9.50v1.0M324.83 111.50v-1.0M324.83 9.50v1.0M328.90 111.50v-1.0M328.90 9.50v1.0M332.97 111.50v-1.0M332.97 9.50v1.0M341.10 111.50v-1.0M341.10 9.50v1.0M345.17 111.50v-1.0M345.17 9.50v1.0M349.23 111.50v-1.0M349.23 9.50v1.0M357.37 111.50v-1.0M357.37 9.50v1.0M361.43 111.50v-1.0M361.43 9.50v1.0M365.50 111.50v-1.0M365.50 9.50v1.0M373.63 111.50v-1.0M373.63 9.50v1.0M377.70 111.50v-1.0M377.70 9.50v1.0M381.77 111.50v-1.0M381.77 9.50v1.0M389.90 111.50v-1.0M389.90 9.50v1.0M393.97 111.50v-1.0M393.97 9.50v1.0M398.03 111.50v-1.0M398.03 9.50v1.0M302.50 109.40h2.0M405.50 109.40h-2.0M302.50 93.60h2.0M405.50 93.60h-2.0M302.50 77.80h2.0M405.50 77.80h-2.0M302.50 62.00h2.0M405.50 62.00h-2.0M302.50 46.20h2.0M405.50 46.20h-2.0M302.50 30.40h2.0M405.50 30.40h-2.0M302.50 14.60h2.0M405.50 14.60h-2.0M302.50 105.45h1.0M405.50 105.45h-1.0M302.50 101.50h1.0M405.50 101.50h-1.0M302.50 97.55h1.0M405.50 97.55h-1.0M302.50 89.65h1.0M405.50 89.65h-1.0M302.50 85.70h1.0M405.50 85.70h-1.0M302.50 81.75h1.0M405.50 81.75h-1.0M302.50 73.85h1.0M405.50 73.85h-1.0M302.50 69.90h1.0M405.50 69.90h-1.0M302.50 65.95h1.0M405.50 65.95h-1.0M302.50 58.05h1.0M405.50 58.05h-1.0M302.50 54.10h1.0M405.50 54.10h-1.0M302.50 50.15h1.0M405.50 50.15h-1.0M302.50 42.25h1.0M405.50 42.25h-1.0M302.50 38.30h1.0M405.50 38.30h-1.0M302.50 34.35h1.0M405.50 34.35h-1.0M302.50 26.45h1.0M405.50 26.45h-1.0M302.50 22.50h1.0M405.50 22.50h-1.0M302.50 18.55h1.0M405.50 18.55h-1.0M302.50 10.65h1.0M405.50 10.65h-1.0" stroke="#404040" stroke-width="0.4" stroke-opacity="0.8" fill="none"/>
<text x="304.50" y="118.40" font-size="6.3" text-anchor="middle" font-weight="bold" font-style="italic" fill="#262626"  stroke="#262626" stroke-width="0.3">0</text>
<text x="320.77" y="118.40" font-size="6.3" text-anchor="middle" font-weight="bold" font-style="italic" fill="#262626"  stroke="#262626" stroke-width="0.3">20</text>
<text x="337.03" y="118.40" font-size="6.3" text-anchor="middle" font-weight="bold" font-style="italic" fill="#262626"  stroke="#262626" stroke-width="0.3">40</text>
<text x="353.30" y="118.40" font-size="6.3" text-anchor="middle" font-weight="bold" font-style="italic" fill="#262626"  stroke="#262626" stroke-width="0.3">60</text>
<text x="369.57" y="118.40" font-size="6.3" text-anchor="middle" font-weight="bold" font-style="italic" fill="#262626"  stroke="#262626" stroke-width="0.3">80</text>
<text x="385.83" y="118.40" font-size="6.3" text-anchor="middle" font-weight="bold" font-style="italic" fill="#262626"  stroke="#262626" stroke-width="0.3">100</text>
<text x="402.10" y="118.40" font-size="6.3" text-anchor="middle" font-weight="bold" font-style="italic" fill="#262626"  stroke="#262626" stroke-width="0.3">120</text>
<text x="300.90" y="111.95" font-size="6.3" text-anchor="end" font-weight="bold" font-style="italic" fill="#262626"  stroke="#262626" stroke-width="0.3">0</text>
<text x="300.90" y="96.15" font-size="6.3" text-anchor="end" font-weight="bold" font-style="italic" fill="#262626"  stroke="#262626" stroke-width="0.3">20</text>
<text x="300.90" y="80.35" font-size="6.3" text-anchor="end" font-weight="bold" font-style="italic" fill="#262626"  stroke="#262626" stroke-width="0.3">40</text>
<text x="300.90" y="64.55" font-size="6.3" text-anchor="end" font-weight="bold" font-style="italic" fill="#262626"  stroke="#262626" stroke-width="0.3">60</text>
<text x="300.90" y="48.75" font-size="6.3" text-anchor="end" font-weight="bold" font-style="italic" fill="#262626"  stroke="#262626" stroke-width="0.3">80</text>
<text x="300.90" y="32.95" font-size="6.3" text-anchor="end" font-weight="bold" font-style="italic" fill="#262626"  stroke="#262626" stroke-width="0.3">100</text>
<text x="300.90" y="17.15" font-size="6.3" text-anchor="end" font-weight="bold" font-style="italic" fill="#262626"  stroke="#262626" stroke-width="0.3">120</text>
<text x="354.25" y="128.20" font-size="6.8" text-anchor="middle" font-weight="bold" font-style="italic" fill="#262626"  stroke="#262626" stroke-width="0.3">n</text>
<text x="390.80" y="24.05" font-size="10.6" text-anchor="middle" font-weight="normal" font-style="normal" fill="#505050" >(c)</text>
<text x="276.60" y="63.00" font-size="5.9" font-weight="bold" font-style="italic" fill="#262626" stroke="#262626" stroke-width="0.15">|ψ|<tspan font-size="4.0" dy="-2.6">2</tspan></text>
<clipPath id="cg"><rect x="300.6" y="144.2" width="104.0" height="104.10000000000002"/></clipPath>
<g clip-path="url(#cg)">
<path d="M303.43 243.32 L304.25 238.57 L305.08 243.03 L305.90 234.11 L306.73 229.05 L307.56 241.54 L308.38 235.59 L309.21 244.81 L310.03 244.36 L310.86 245.85 L311.68 244.20 L312.51 245.36 L313.34 240.95 L314.16 243.95 L314.99 237.69 L315.81 243.52 L316.64 238.94 L317.47 244.65 L318.29 242.96 L319.12 245.76 L319.94 243.13 L320.77 244.73 L321.59 239.11 L322.42 243.54 L323.25 237.63 L324.07 243.89 L324.90 240.73 L325.72 245.30 L326.55 244.12 L327.38 245.85 L328.20 243.85 L329.03 245.20 L329.85 240.86 L330.68 244.16 L331.50 239.01 L332.33 244.16 L333.16 240.86 L333.98 245.20 L334.81 243.85 L335.63 245.85 L336.46 244.22 L337.29 245.51 L338.11 242.15 L338.94 244.66 L339.76 240.27 L340.59 244.45 L341.41 241.17 L342.24 245.17 L343.07 243.61 L343.89 245.83 L344.72 244.35 L345.54 245.64 L346.37 242.55 L347.20 244.74 L348.02 240.18 L348.85 244.30 L349.67 240.51 L350.50 244.92 L351.32 243.08 L352.15 245.75 L352.98 244.36 L353.80 245.85 L354.63 244.08 L355.45 245.31 L356.28 241.02 L357.11 244.10 L357.93 238.47 L358.76 243.87 L359.58 239.96 L360.41 244.94 L361.23 243.43 L362.06 245.73 L362.89 242.50 L363.71 244.36 L364.54 237.79 L365.36 243.09 L366.19 236.62 L367.02 243.69 L367.84 240.60 L368.67 245.34 L369.49 244.24 L370.32 245.83 L371.14 242.43 L371.97 243.82 L372.80 234.19 L373.62 241.17 L374.45 230.15 L375.27 241.53 L376.10 235.89 L376.93 244.42 L377.75 243.48 L378.58 245.85 L379.40 243.08 L380.23 243.76 L381.05 232.01 L381.88 239.55 L382.71 223.64 L383.53 239.02 L384.36 229.53 L385.18 242.89 L386.01 241.54 L386.84 245.57 L387.66 239.67 L388.49 242.09 L389.31 227.81 L390.14 238.89 L390.96 224.86 L391.79 240.42 L392.62 234.89 L393.44 244.57 L394.27 244.05 L395.09 243.03 L395.92 231.13 L396.75 240.05 L397.57 213.00 L398.40 237.08 L399.22 196.65 L400.05 240.05 L400.87 219.24 L401.70 237.68" fill="none" stroke="#9a3f78" stroke-width="1.2" stroke-linejoin="round" stroke-opacity="1.0"/>
<path d="M302.60 162.16 L303.43 174.65 L304.25 183.57 L305.08 179.11 L305.90 184.76 L306.73 182.97 L307.56 185.95 L308.38 183.99 L309.21 184.92 L310.03 176.48 L310.86 181.77 L311.68 170.80 L312.51 182.01 L313.34 177.47 L314.16 185.19 L314.99 183.18 L315.81 184.93 L316.64 179.07 L317.47 183.60 L318.29 177.05 L319.12 183.79 L319.94 179.93 L320.77 185.23 L321.59 183.72 L322.42 185.95 L323.25 183.76 L324.07 185.29 L324.90 180.28 L325.72 183.97 L326.55 177.65 L327.38 183.80 L328.20 179.50 L329.03 185.02 L329.85 183.28 L330.68 185.94 L331.50 184.16 L332.33 185.94 L333.16 183.64 L333.98 185.40 L334.81 181.41 L335.63 184.68 L336.46 180.31 L337.29 184.78 L338.11 181.87 L338.94 185.56 L339.76 183.92 L340.59 185.95 L341.41 184.00 L342.24 185.72 L343.07 182.86 L343.89 185.30 L344.72 182.08 L345.54 185.27 L346.37 182.74 L347.20 185.67 L348.02 183.92 L348.85 185.94 L349.67 184.11 L350.50 185.80 L351.32 183.12 L352.15 185.37 L352.98 182.13 L353.80 185.23 L354.63 182.51 L355.45 185.58 L356.28 183.73 L357.11 185.93 L357.93 184.16 L358.76 185.83 L359.58 183.04 L360.41 185.23 L361.23 181.42 L362.06 184.91 L362.89 181.53 L363.71 185.30 L364.54 183.22 L365.36 185.86 L366.19 184.16 L367.02 185.80 L367.84 182.28 L368.67 184.59 L369.49 178.51 L370.32 183.67 L371.14 178.03 L371.97 184.31 L372.80 181.50 L373.62 185.64 L374.45 184.14 L375.27 185.88 L376.10 181.90 L376.93 183.90 L377.75 174.57 L378.58 181.73 L379.40 171.87 L380.23 182.37 L381.05 177.53 L381.88 184.93 L382.71 183.72 L383.53 185.95 L384.36 182.97 L385.18 184.44 L386.01 175.99 L386.84 181.99 L387.66 171.68 L388.49 181.99 L389.31 175.99 L390.14 184.44 L390.96 182.97 L391.79 185.95 L392.62 181.11 L393.44 182.24 L394.27 165.58 L395.09 177.98 L395.92 163.26 L396.75 181.05 L397.57 178.44 L398.40 185.77 L399.22 184.16 L400.05 183.57 L400.87 168.70 L401.70 138.97 L402.53 138.97" fill="none" stroke="#4f4fa6" stroke-width="1.2" stroke-linejoin="round" stroke-opacity="1.0"/>
</g>
<rect x="300.50" y="144.50" width="104.00" height="104.00" fill="none" stroke="#404040" stroke-width="1.05"/>
<path d="M302.60 248.50v-2.0M302.60 144.50v2.0M319.12 248.50v-2.0M319.12 144.50v2.0M335.63 248.50v-2.0M335.63 144.50v2.0M352.15 248.50v-2.0M352.15 144.50v2.0M368.67 248.50v-2.0M368.67 144.50v2.0M385.18 248.50v-2.0M385.18 144.50v2.0M401.70 248.50v-2.0M401.70 144.50v2.0M306.73 248.50v-1.0M306.73 144.50v1.0M310.86 248.50v-1.0M310.86 144.50v1.0M314.99 248.50v-1.0M314.99 144.50v1.0M323.25 248.50v-1.0M323.25 144.50v1.0M327.38 248.50v-1.0M327.38 144.50v1.0M331.50 248.50v-1.0M331.50 144.50v1.0M339.76 248.50v-1.0M339.76 144.50v1.0M343.89 248.50v-1.0M343.89 144.50v1.0M348.02 248.50v-1.0M348.02 144.50v1.0M356.28 248.50v-1.0M356.28 144.50v1.0M360.41 248.50v-1.0M360.41 144.50v1.0M364.54 248.50v-1.0M364.54 144.50v1.0M372.80 248.50v-1.0M372.80 144.50v1.0M376.93 248.50v-1.0M376.93 144.50v1.0M381.05 248.50v-1.0M381.05 144.50v1.0M389.31 248.50v-1.0M389.31 144.50v1.0M393.44 248.50v-1.0M393.44 144.50v1.0M397.57 248.50v-1.0M397.57 144.50v1.0M300.50 246.00h2.0M404.50 246.00h-2.0M300.50 231.13h2.0M404.50 231.13h-2.0M300.50 216.27h2.0M404.50 216.27h-2.0M300.50 201.41h2.0M404.50 201.41h-2.0M300.50 186.54h2.0M404.50 186.54h-2.0M300.50 171.68h2.0M404.50 171.68h-2.0M300.50 156.81h2.0M404.50 156.81h-2.0M300.50 243.03h1.0M404.50 243.03h-1.0M300.50 240.05h1.0M404.50 240.05h-1.0M300.50 237.08h1.0M404.50 237.08h-1.0M300.50 234.11h1.0M404.50 234.11h-1.0M300.50 228.16h1.0M404.50 228.16h-1.0M300.50 225.19h1.0M404.50 225.19h-1.0M300.50 222.22h1.0M404.50 222.22h-1.0M300.50 219.24h1.0M404.50 219.24h-1.0M300.50 213.30h1.0M404.50 213.30h-1.0M300.50 210.32h1.0M404.50 210.32h-1.0M300.50 207.35h1.0M404.50 207.35h-1.0M300.50 204.38h1.0M404.50 204.38h-1.0M300.50 198.43h1.0M404.50 198.43h-1.0M300.50 195.46h1.0M404.50 195.46h-1.0M300.50 192.49h1.0M404.50 192.49h-1.0M300.50 189.51h1.0M404.50 189.51h-1.0M300.50 183.57h1.0M404.50 183.57h-1.0M300.50 180.59h1.0M404.50 180.59h-1.0M300.50 177.62h1.0M404.50 177.62h-1.0M300.50 174.65h1.0M404.50 174.65h-1.0M300.50 168.70h1.0M404.50 168.70h-1.0M300.50 165.73h1.0M404.50 165.73h-1.0M300.50 162.76h1.0M404.50 162.76h-1.0M300.50 159.78h1.0M404.50 159.78h-1.0M300.50 153.84h1.0M404.50 153.84h-1.0M300.50 150.86h1.0M404.50 150.86h-1.0M300.50 147.89h1.0M404.50 147.89h-1.0M300.50 144.92h1.0M404.50 144.92h-1.0" stroke="#404040" stroke-width="0.4" stroke-opacity="0.8" fill="none"/>
<text x="302.60" y="255.60" font-size="6.3" text-anchor="middle" font-weight="bold" font-style="italic" fill="#262626"  stroke="#262626" stroke-width="0.3">0</text>
<text x="319.12" y="255.60" font-size="6.3" text-anchor="middle" font-weight="bold" font-style="italic" fill="#262626"  stroke="#262626" stroke-width="0.3">20</text>
<text x="335.63" y="255.60" font-size="6.3" text-anchor="middle" font-weight="bold" font-style="italic" fill="#262626"  stroke="#262626" stroke-width="0.3">40</text>
<text x="352.15" y="255.60" font-size="6.3" text-anchor="middle" font-weight="bold" font-style="italic" fill="#262626"  stroke="#262626" stroke-width="0.3">60</text>
<text x="368.67" y="255.60" font-size="6.3" text-anchor="middle" font-weight="bold" font-style="italic" fill="#262626"  stroke="#262626" stroke-width="0.3">80</text>
<text x="385.18" y="255.60" font-size="6.3" text-anchor="middle" font-weight="bold" font-style="italic" fill="#262626"  stroke="#262626" stroke-width="0.3">100</text>
<text x="401.70" y="255.60" font-size="6.3" text-anchor="middle" font-weight="bold" font-style="italic" fill="#262626"  stroke="#262626" stroke-width="0.3">120</text>
<text x="299.00" y="248.55" font-size="6.3" text-anchor="end" font-weight="bold" font-style="italic" fill="#262626"  stroke="#262626" stroke-width="0.3">0.0</text>
<text x="299.00" y="233.69" font-size="6.3" text-anchor="end" font-weight="bold" font-style="italic" fill="#262626"  stroke="#262626" stroke-width="0.3">0.5</text>
<text x="299.00" y="218.82" font-size="6.3" text-anchor="end" font-weight="bold" font-style="italic" fill="#262626"  stroke="#262626" stroke-width="0.3">1.0</text>
<text x="299.00" y="203.96" font-size="6.3" text-anchor="end" font-weight="bold" font-style="italic" fill="#262626"  stroke="#262626" stroke-width="0.3">1.5</text>
<text x="299.00" y="189.09" font-size="6.3" text-anchor="end" font-weight="bold" font-style="italic" fill="#262626"  stroke="#262626" stroke-width="0.3">2.0</text>
<text x="299.00" y="174.23" font-size="6.3" text-anchor="end" font-weight="bold" font-style="italic" fill="#262626"  stroke="#262626" stroke-width="0.3">2.5</text>
<text x="299.00" y="159.36" font-size="6.3" text-anchor="end" font-weight="bold" font-style="italic" fill="#262626"  stroke="#262626" stroke-width="0.3">3.0</text>
<text x="353.10" y="265.40" font-size="6.8" text-anchor="middle" font-weight="bold" font-style="italic" fill="#262626"  stroke="#262626" stroke-width="0.3">n</text>
<text x="390.30" y="157.85" font-size="10.6" text-anchor="middle" font-weight="normal" font-style="normal" fill="#505050" >(g)</text>
<text x="276.30" y="198.60" font-size="5.9" font-weight="bold" font-style="italic" fill="#262626" stroke="#262626" stroke-width="0.15">|ψ|<tspan font-size="4.0" dy="-2.6">2</tspan></text>
<clipPath id="cm"><rect x="302.4" y="282.6" width="102.40000000000003" height="102.19999999999999"/></clipPath>
<g clip-path="url(#cm)">
<path d="M305.21 378.90 L306.02 381.42 L306.84 370.32 L307.65 378.46 L308.46 356.04 L309.27 375.50 L310.09 365.51 L310.90 380.68 L311.71 382.16 L312.52 382.73 L313.34 378.99 L314.15 380.95 L314.96 372.68 L315.77 379.16 L316.59 370.73 L317.40 379.84 L318.21 375.83 L319.02 382.05 L319.84 380.94 L320.65 382.44 L321.46 377.18 L322.27 380.16 L323.09 370.69 L323.90 378.76 L324.71 370.69 L325.52 380.16 L326.34 377.18 L327.15 382.44 L327.96 381.20 L328.77 382.76 L329.59 379.60 L330.40 381.47 L331.21 375.03 L332.02 380.17 L332.84 373.62 L333.65 380.67 L334.46 377.31 L335.27 382.27 L336.09 381.01 L336.90 382.83 L337.71 380.82 L338.52 382.34 L339.34 378.58 L340.15 381.56 L340.96 377.20 L341.77 381.56 L342.59 378.58 L343.40 382.34 L344.21 380.82 L345.02 382.83 L345.84 381.13 L346.65 382.54 L347.46 379.12 L348.27 381.63 L349.09 376.91 L349.90 381.30 L350.71 377.56 L351.52 382.00 L352.34 380.17 L353.15 382.77 L353.96 381.20 L354.77 382.72 L355.59 379.75 L356.40 381.78 L357.21 376.85 L358.02 381.07 L358.84 376.48 L359.65 381.57 L360.46 379.15 L361.27 382.59 L362.09 381.09 L362.90 382.48 L363.71 378.63 L364.53 381.35 L365.34 375.91 L366.15 380.94 L366.96 376.71 L367.78 381.81 L368.59 379.93 L369.40 382.76 L370.21 381.20 L371.03 382.59 L371.84 378.12 L372.65 380.60 L373.46 371.92 L374.28 379.09 L375.09 371.13 L375.90 380.15 L376.71 376.84 L377.53 382.32 L378.34 381.16 L379.15 382.78 L379.96 378.82 L380.78 380.52 L381.59 370.01 L382.40 377.79 L383.21 366.24 L384.03 378.38 L384.84 372.70 L385.65 381.46 L386.46 380.48 L387.28 382.81 L388.09 379.23 L388.90 380.76 L389.71 370.86 L390.53 378.06 L391.34 366.75 L392.15 378.44 L392.96 372.59 L393.78 381.37 L394.59 380.30 L395.40 380.68 L396.21 365.14 L397.03 378.46 L397.84 354.78 L398.65 374.02 L399.46 346.64 L400.28 376.24 L401.09 358.48 L401.90 373.28 L402.71 381.20" fill="none" stroke="#9a3f78" stroke-width="1.2" stroke-linejoin="round" stroke-opacity="1.0"/>
<path d="M305.21 284.48 L306.02 311.86 L306.84 320.74 L307.65 314.82 L308.46 321.48 L309.27 319.26 L310.09 321.06 L310.90 321.30 L311.71 308.86 L312.52 315.85 L313.34 298.24 L314.15 315.85 L314.96 308.86 L315.77 321.30 L316.59 320.32 L317.40 321.62 L318.21 314.15 L319.02 319.23 L319.84 309.39 L320.65 318.92 L321.46 312.74 L322.27 321.13 L323.09 319.58 L323.90 322.80 L324.71 321.14 L325.52 322.27 L326.34 316.55 L327.15 319.97 L327.96 310.49 L328.77 318.84 L329.59 311.33 L330.40 320.44 L331.21 317.91 L332.02 322.57 L332.84 321.18 L333.65 322.74 L334.46 319.88 L335.27 321.77 L336.09 316.58 L336.90 320.87 L337.71 315.76 L338.52 321.30 L339.34 318.55 L340.15 322.46 L340.96 321.10 L341.77 322.79 L342.59 320.62 L343.40 322.33 L344.21 319.01 L345.02 321.88 L345.84 318.51 L346.65 322.05 L347.46 319.81 L348.27 322.61 L349.09 321.12 L349.90 322.77 L350.71 320.47 L351.52 322.27 L352.34 318.88 L353.15 321.86 L353.96 318.58 L354.77 322.10 L355.59 319.99 L356.40 322.66 L357.21 321.16 L358.02 322.81 L358.84 320.78 L359.65 322.35 L360.46 318.80 L361.27 321.69 L362.09 317.71 L362.90 321.73 L363.71 319.01 L364.53 322.43 L365.34 320.91 L366.15 322.81 L366.96 321.07 L367.78 322.48 L368.59 318.85 L369.40 321.52 L370.21 316.64 L371.03 321.22 L371.84 317.48 L372.65 322.00 L373.46 320.22 L374.28 322.77 L375.09 320.78 L375.90 322.04 L376.71 316.40 L377.53 320.30 L378.34 312.75 L379.15 319.98 L379.96 314.88 L380.78 321.51 L381.59 319.84 L382.40 322.79 L383.21 321.18 L384.03 322.76 L384.84 319.48 L385.65 321.27 L386.46 313.97 L387.28 319.64 L388.09 311.93 L388.90 320.12 L389.71 316.19 L390.53 322.05 L391.34 320.85 L392.15 322.78 L392.96 318.02 L393.78 319.65 L394.59 306.63 L395.40 316.93 L396.21 306.63 L397.03 319.65 L397.84 318.02 L398.65 319.26 L399.46 305.94 L400.28 320.74 L401.09 316.30 L401.90 291.51" fill="none" stroke="#4f4fa6" stroke-width="1.2" stroke-linejoin="round" stroke-opacity="1.0"/>
</g>
<rect x="302.50" y="282.50" width="102.00" height="102.00" fill="none" stroke="#404040" stroke-width="1.05"/>
<path d="M304.40 384.50v-2.0M304.40 282.50v2.0M320.65 384.50v-2.0M320.65 282.50v2.0M336.90 384.50v-2.0M336.90 282.50v2.0M353.15 384.50v-2.0M353.15 282.50v2.0M369.40 384.50v-2.0M369.40 282.50v2.0M385.65 384.50v-2.0M385.65 282.50v2.0M401.90 384.50v-2.0M401.90 282.50v2.0M308.46 384.50v-1.0M308.46 282.50v1.0M312.52 384.50v-1.0M312.52 282.50v1.0M316.59 384.50v-1.0M316.59 282.50v1.0M324.71 384.50v-1.0M324.71 282.50v1.0M328.77 384.50v-1.0M328.77 282.50v1.0M332.84 384.50v-1.0M332.84 282.50v1.0M340.96 384.50v-1.0M340.96 282.50v1.0M345.02 384.50v-1.0M345.02 282.50v1.0M349.09 384.50v-1.0M349.09 282.50v1.0M357.21 384.50v-1.0M357.21 282.50v1.0M361.27 384.50v-1.0M361.27 282.50v1.0M365.34 384.50v-1.0M365.34 282.50v1.0M373.46 384.50v-1.0M373.46 282.50v1.0M377.53 384.50v-1.0M377.53 282.50v1.0M381.59 384.50v-1.0M381.59 282.50v1.0M389.71 384.50v-1.0M389.71 282.50v1.0M393.78 384.50v-1.0M393.78 282.50v1.0M397.84 384.50v-1.0M397.84 282.50v1.0M302.50 382.90h2.0M404.50 382.90h-2.0M302.50 368.10h2.0M404.50 368.10h-2.0M302.50 353.30h2.0M404.50 353.30h-2.0M302.50 338.50h2.0M404.50 338.50h-2.0M302.50 323.70h2.0M404.50 323.70h-2.0M302.50 308.90h2.0M404.50 308.90h-2.0M302.50 294.10h2.0M404.50 294.10h-2.0M302.50 379.20h1.0M404.50 379.20h-1.0M302.50 375.50h1.0M404.50 375.50h-1.0M302.50 371.80h1.0M404.50 371.80h-1.0M302.50 364.40h1.0M404.50 364.40h-1.0M302.50 360.70h1.0M404.50 360.70h-1.0M302.50 357.00h1.0M404.50 357.00h-1.0M302.50 349.60h1.0M404.50 349.60h-1.0M302.50 345.90h1.0M404.50 345.90h-1.0M302.50 342.20h1.0M404.50 342.20h-1.0M302.50 334.80h1.0M404.50 334.80h-1.0M302.50 331.10h1.0M404.50 331.10h-1.0M302.50 327.40h1.0M404.50 327.40h-1.0M302.50 320.00h1.0M404.50 320.00h-1.0M302.50 316.30h1.0M404.50 316.30h-1.0M302.50 312.60h1.0M404.50 312.60h-1.0M302.50 305.20h1.0M404.50 305.20h-1.0M302.50 301.50h1.0M404.50 301.50h-1.0M302.50 297.80h1.0M404.50 297.80h-1.0M302.50 290.40h1.0M404.50 290.40h-1.0M302.50 286.70h1.0M404.50 286.70h-1.0M302.50 283.00h1.0M404.50 283.00h-1.0" stroke="#404040" stroke-width="0.4" stroke-opacity="0.8" fill="none"/>
<text x="304.40" y="392.10" font-size="6.3" text-anchor="middle" font-weight="bold" font-style="italic" fill="#262626"  stroke="#262626" stroke-width="0.3">0</text>
<text x="320.65" y="392.10" font-size="6.3" text-anchor="middle" font-weight="bold" font-style="italic" fill="#262626"  stroke="#262626" stroke-width="0.3">20</text>
<text x="336.90" y="392.10" font-size="6.3" text-anchor="middle" font-weight="bold" font-style="italic" fill="#262626"  stroke="#262626" stroke-width="0.3">40</text>
<text x="353.15" y="392.10" font-size="6.3" text-anchor="middle" font-weight="bold" font-style="italic" fill="#262626"  stroke="#262626" stroke-width="0.3">60</text>
<text x="369.40" y="392.10" font-size="6.3" text-anchor="middle" font-weight="bold" font-style="italic" fill="#262626"  stroke="#262626" stroke-width="0.3">80</text>
<text x="385.65" y="392.10" font-size="6.3" text-anchor="middle" font-weight="bold" font-style="italic" fill="#262626"  stroke="#262626" stroke-width="0.3">100</text>
<text x="401.90" y="392.10" font-size="6.3" text-anchor="middle" font-weight="bold" font-style="italic" fill="#262626"  stroke="#262626" stroke-width="0.3">120</text>
<text x="300.80" y="385.45" font-size="6.3" text-anchor="end" font-weight="bold" font-style="italic" fill="#262626"  stroke="#262626" stroke-width="0.3">0</text>
<text x="300.80" y="370.65" font-size="6.3" text-anchor="end" font-weight="bold" font-style="italic" fill="#262626"  stroke="#262626" stroke-width="0.3">20</text>
<text x="300.80" y="355.85" font-size="6.3" text-anchor="end" font-weight="bold" font-style="italic" fill="#262626"  stroke="#262626" stroke-width="0.3">40</text>
<text x="300.80" y="341.05" font-size="6.3" text-anchor="end" font-weight="bold" font-style="italic" fill="#262626"  stroke="#262626" stroke-width="0.3">60</text>
<text x="300.80" y="326.25" font-size="6.3" text-anchor="end" font-weight="bold" font-style="italic" fill="#262626"  stroke="#262626" stroke-width="0.3">80</text>
<text x="300.80" y="311.45" font-size="6.3" text-anchor="end" font-weight="bold" font-style="italic" fill="#262626"  stroke="#262626" stroke-width="0.3">100</text>
<text x="300.80" y="296.65" font-size="6.3" text-anchor="end" font-weight="bold" font-style="italic" fill="#262626"  stroke="#262626" stroke-width="0.3">120</text>
<text x="354.10" y="401.90" font-size="6.8" text-anchor="middle" font-weight="bold" font-style="italic" fill="#262626"  stroke="#262626" stroke-width="0.3">n</text>
<text x="390.60" y="298.65" font-size="10.6" text-anchor="middle" font-weight="normal" font-style="normal" fill="#505050" >(m)</text>
<text x="276.30" y="337.00" font-size="5.9" font-weight="bold" font-style="italic" fill="#262626" stroke="#262626" stroke-width="0.15">|ψ|<tspan font-size="4.0" dy="-2.6">2</tspan></text>
<clipPath id="cd"><rect x="437.6" y="9.2" width="102.19999999999993" height="102.0"/></clipPath>
<g clip-path="url(#cd)">
<path d="M440.41 90.84 L441.22 104.68 L442.03 107.20 L442.84 101.93 L443.65 107.08 L444.47 105.66 L445.28 95.05 L446.09 105.71 L446.90 105.59 L447.71 93.90 L448.52 105.70 L449.33 107.24 L450.14 103.08 L450.95 107.51 L451.76 106.92 L452.57 101.74 L453.38 107.14 L454.19 107.17 L455.01 101.55 L455.82 107.05 L456.63 107.58 L457.44 104.23 L458.25 107.73 L459.06 107.90 L459.87 104.99 L460.68 107.97 L461.49 107.46 L462.30 102.51 L463.11 107.11 L463.93 108.04 L464.74 105.38 L465.55 108.04 L466.36 108.00 L467.17 106.33 L467.98 108.31 L468.79 107.94 L469.60 105.76 L470.41 107.97 L471.22 108.14 L472.03 106.91 L472.84 108.32 L473.66 108.14 L474.47 107.29 L475.28 108.09 L476.09 108.59 L476.90 107.67 L477.71 108.14 L478.52 108.44 L479.33 107.86 L480.14 107.98 L480.95 107.67 L481.76 107.58 L482.57 107.74 L483.38 108.09 L484.20 108.50 L485.01 108.82 L485.82 108.91 L486.63 108.75 L487.44 108.40 L488.25 107.98 L489.06 107.67 L489.87 107.58 L490.68 107.74 L491.49 108.09 L492.30 108.50 L493.12 108.82 L493.93 108.91 L494.74 108.75 L495.55 108.40 L496.36 106.52 L497.17 107.58 L497.98 104.42 L498.79 107.92 L499.60 108.28 L500.41 106.33 L501.22 108.21 L502.03 107.69 L502.84 105.38 L503.66 107.75 L504.47 107.03 L505.28 101.17 L506.09 106.92 L506.90 107.63 L507.71 104.99 L508.52 107.67 L509.33 107.70 L510.14 103.46 L510.95 107.73 L511.76 108.50 L512.58 105.43 L513.39 93.71 L514.20 105.71 L515.01 107.50 L515.82 103.08 L516.63 107.31 L517.44 107.01 L518.25 100.60 L519.06 106.95 L519.87 105.26 L520.68 92.37 L521.49 105.10 L522.30 95.82 L523.12 105.22 L523.93 92.76 L524.74 105.56 L525.55 106.81 L526.36 99.64 L527.17 106.54 L527.98 102.30 L528.79 77.08 L529.60 102.08 L530.41 103.45 L531.22 82.24 L532.03 103.11 L532.85 101.55 L533.66 106.47 L534.47 98.11 L535.28 106.67 L536.09 108.49 L536.90 100.60 L537.71 68.67" fill="none" stroke="#9a3f78" stroke-width="1.2" stroke-linejoin="round" stroke-opacity="1.0"/>
<path d="M440.41 22.97 L441.22 36.84 L442.03 36.10 L442.84 16.09 L443.65 36.49 L444.47 38.73 L445.28 27.18 L446.09 39.19 L446.90 40.27 L447.71 31.96 L448.52 40.32 L449.33 38.78 L450.14 25.45 L450.95 38.93 L451.76 39.24 L452.57 28.13 L453.38 39.68 L454.19 42.18 L455.01 40.95 L455.82 35.01 L456.63 40.93 L457.44 39.70 L458.25 30.23 L459.06 39.98 L459.87 40.33 L460.68 33.29 L461.49 40.42 L462.30 41.14 L463.11 36.74 L463.93 40.65 L464.74 40.87 L465.55 38.07 L466.36 40.86 L467.17 40.37 L467.98 35.59 L468.79 40.78 L469.60 41.03 L470.41 38.65 L471.22 41.15 L472.03 41.33 L472.84 39.22 L473.66 41.13 L474.47 40.92 L475.28 37.69 L476.09 40.75 L476.90 40.71 L477.71 38.84 L478.52 41.01 L479.33 41.06 L480.14 39.22 L480.95 41.08 L481.76 40.97 L482.57 38.65 L483.38 41.04 L484.20 38.55 L485.01 38.50 L485.82 38.95 L486.63 39.72 L487.44 40.52 L488.25 41.04 L489.06 41.09 L489.87 40.64 L490.68 39.87 L491.49 39.07 L492.30 38.55 L493.12 38.50 L493.93 38.95 L494.74 39.72 L495.55 40.52 L496.36 41.04 L497.17 41.09 L497.98 40.64 L498.79 39.87 L499.60 39.07 L500.41 38.07 L501.22 40.68 L502.03 37.50 L502.84 40.52 L503.66 40.78 L504.47 38.46 L505.28 41.05 L506.09 40.68 L506.90 37.31 L507.71 40.81 L508.52 40.50 L509.33 34.82 L510.14 40.73 L510.95 41.08 L511.76 36.93 L512.58 41.16 L513.39 40.76 L514.20 36.16 L515.01 40.82 L515.82 40.51 L516.63 33.68 L517.44 40.83 L518.25 39.98 L519.06 29.28 L519.87 40.01 L520.68 40.92 L521.49 33.48 L522.30 40.60 L523.12 39.42 L523.93 26.60 L524.74 39.08 L525.55 38.76 L526.36 24.69 L527.17 38.88 L527.98 39.87 L528.79 31.76 L529.60 39.95 L530.41 39.58 L531.22 29.28 L532.03 39.38 L532.85 41.94 L533.66 35.75 L534.47 11.88 L535.28 36.04 L536.09 26.98 L536.90 38.66 L537.71 24.69" fill="none" stroke="#4f4fa6" stroke-width="1.2" stroke-linejoin="round" stroke-opacity="1.0"/>
</g>
<rect x="437.50" y="9.50" width="102.00" height="102.00" fill="none" stroke="#404040" stroke-width="1.05"/>
<path d="M439.60 111.50v-2.0M439.60 9.50v2.0M455.82 111.50v-2.0M455.82 9.50v2.0M472.03 111.50v-2.0M472.03 9.50v2.0M488.25 111.50v-2.0M488.25 9.50v2.0M504.47 111.50v-2.0M504.47 9.50v2.0M520.68 111.50v-2.0M520.68 9.50v2.0M536.90 111.50v-2.0M536.90 9.50v2.0M443.65 111.50v-1.0M443.65 9.50v1.0M447.71 111.50v-1.0M447.71 9.50v1.0M451.76 111.50v-1.0M451.76 9.50v1.0M459.87 111.50v-1.0M459.87 9.50v1.0M463.93 111.50v-1.0M463.93 9.50v1.0M467.98 111.50v-1.0M467.98 9.50v1.0M476.09 111.50v-1.0M476.09 9.50v1.0M480.14 111.50v-1.0M480.14 9.50v1.0M484.20 111.50v-1.0M484.20 9.50v1.0M492.30 111.50v-1.0M492.30 9.50v1.0M496.36 111.50v-1.0M496.36 9.50v1.0M500.41 111.50v-1.0M500.41 9.50v1.0M508.52 111.50v-1.0M508.52 9.50v1.0M512.58 111.50v-1.0M512.58 9.50v1.0M516.63 111.50v-1.0M516.63 9.50v1.0M524.74 111.50v-1.0M524.74 9.50v1.0M528.79 111.50v-1.0M528.79 9.50v1.0M532.85 111.50v-1.0M532.85 9.50v1.0M437.50 109.20h2.0M539.50 109.20h-2.0M437.50 90.08h2.0M539.50 90.08h-2.0M437.50 70.96h2.0M539.50 70.96h-2.0M437.50 51.84h2.0M539.50 51.84h-2.0M437.50 32.72h2.0M539.50 32.72h-2.0M437.50 13.60h2.0M539.50 13.60h-2.0M437.50 105.38h1.0M539.50 105.38h-1.0M437.50 101.55h1.0M539.50 101.55h-1.0M437.50 97.73h1.0M539.50 97.73h-1.0M437.50 93.90h1.0M539.50 93.90h-1.0M437.50 86.26h1.0M539.50 86.26h-1.0M437.50 82.43h1.0M539.50 82.43h-1.0M437.50 78.61h1.0M539.50 78.61h-1.0M437.50 74.78h1.0M539.50 74.78h-1.0M437.50 67.14h1.0M539.50 67.14h-1.0M437.50 63.31h1.0M539.50 63.31h-1.0M437.50 59.49h1.0M539.50 59.49h-1.0M437.50 55.66h1.0M539.50 55.66h-1.0M437.50 48.02h1.0M539.50 48.02h-1.0M437.50 44.19h1.0M539.50 44.19h-1.0M437.50 40.37h1.0M539.50 40.37h-1.0M437.50 36.54h1.0M539.50 36.54h-1.0M437.50 28.90h1.0M539.50 28.90h-1.0M437.50 25.07h1.0M539.50 25.07h-1.0M437.50 21.25h1.0M539.50 21.25h-1.0M437.50 17.42h1.0M539.50 17.42h-1.0M437.50 9.78h1.0M539.50 9.78h-1.0" stroke="#404040" stroke-width="0.4" stroke-opacity="0.8" fill="none"/>
<text x="439.60" y="118.50" font-size="6.3" text-anchor="middle" font-weight="bold" font-style="italic" fill="#262626"  stroke="#262626" stroke-width="0.3">0</text>
<text x="455.82" y="118.50" font-size="6.3" text-anchor="middle" font-weight="bold" font-style="italic" fill="#262626"  stroke="#262626" stroke-width="0.3">20</text>
<text x="472.03" y="118.50" font-size="6.3" text-anchor="middle" font-weight="bold" font-style="italic" fill="#262626"  stroke="#262626" stroke-width="0.3">40</text>
<text x="488.25" y="118.50" font-size="6.3" text-anchor="middle" font-weight="bold" font-style="italic" fill="#262626"  stroke="#262626" stroke-width="0.3">60</text>
<text x="504.47" y="118.50" font-size="6.3" text-anchor="middle" font-weight="bold" font-style="italic" fill="#262626"  stroke="#262626" stroke-width="0.3">80</text>
<text x="520.68" y="118.50" font-size="6.3" text-anchor="middle" font-weight="bold" font-style="italic" fill="#262626"  stroke="#262626" stroke-width="0.3">100</text>
<text x="536.90" y="118.50" font-size="6.3" text-anchor="middle" font-weight="bold" font-style="italic" fill="#262626"  stroke="#262626" stroke-width="0.3">120</text>
<text x="436.00" y="111.75" font-size="6.3" text-anchor="end" font-weight="bold" font-style="italic" fill="#262626"  stroke="#262626" stroke-width="0.3">0</text>
<text x="436.00" y="92.63" font-size="6.3" text-anchor="end" font-weight="bold" font-style="italic" fill="#262626"  stroke="#262626" stroke-width="0.3">100</text>
<text x="436.00" y="73.51" font-size="6.3" text-anchor="end" font-weight="bold" font-style="italic" fill="#262626"  stroke="#262626" stroke-width="0.3">200</text>
<text x="436.00" y="54.39" font-size="6.3" text-anchor="end" font-weight="bold" font-style="italic" fill="#262626"  stroke="#262626" stroke-width="0.3">300</text>
<text x="436.00" y="35.27" font-size="6.3" text-anchor="end" font-weight="bold" font-style="italic" fill="#262626"  stroke="#262626" stroke-width="0.3">400</text>
<text x="436.00" y="16.15" font-size="6.3" text-anchor="end" font-weight="bold" font-style="italic" fill="#262626"  stroke="#262626" stroke-width="0.3">500</text>
<text x="489.20" y="128.30" font-size="6.8" text-anchor="middle" font-weight="bold" font-style="italic" fill="#262626"  stroke="#262626" stroke-width="0.3">n</text>
<text x="523.90" y="21.25" font-size="10.6" text-anchor="middle" font-weight="normal" font-style="normal" fill="#505050" >(d)</text>
<text x="410.90" y="63.00" font-size="5.9" font-weight="bold" font-style="italic" fill="#262626" stroke="#262626" stroke-width="0.15">|ψ|<tspan font-size="4.0" dy="-2.6">2</tspan></text>
<clipPath id="ch"><rect x="433.4" y="142.4" width="106.39999999999998" height="105.9"/></clipPath>
<g clip-path="url(#ch)">
<path d="M436.25 216.67 L437.09 237.13 L437.94 241.86 L438.78 231.99 L439.63 241.64 L440.47 238.96 L441.32 219.10 L442.17 239.06 L443.01 238.83 L443.86 216.95 L444.70 239.04 L445.55 241.92 L446.40 234.14 L447.24 242.44 L448.09 241.33 L448.93 231.63 L449.78 241.75 L450.62 241.79 L451.47 231.27 L452.32 241.56 L453.16 242.56 L454.01 236.29 L454.85 242.85 L455.70 243.17 L456.55 237.72 L457.39 243.29 L458.24 242.35 L459.08 233.06 L459.93 241.68 L460.77 243.43 L461.62 238.44 L462.47 243.42 L463.31 243.35 L464.16 240.23 L465.00 243.93 L465.85 243.24 L466.70 239.15 L467.54 243.29 L468.39 243.62 L469.23 241.75 L470.08 244.12 L470.92 243.83 L471.77 242.39 L472.62 243.73 L473.46 244.57 L474.31 243.03 L475.15 243.82 L476.00 244.33 L476.85 243.35 L477.69 243.56 L478.54 243.03 L479.38 242.87 L480.23 243.15 L481.07 243.74 L481.92 244.43 L482.77 244.96 L483.61 245.11 L484.46 244.84 L485.30 244.25 L486.15 243.56 L487.00 243.03 L487.84 242.87 L488.69 243.15 L489.53 243.74 L490.38 244.43 L491.22 244.96 L492.07 245.11 L492.92 244.84 L493.76 244.25 L494.61 241.10 L495.45 242.89 L496.30 237.57 L497.15 243.46 L497.99 244.06 L498.84 240.78 L499.68 243.93 L500.53 243.06 L501.38 239.18 L502.22 243.17 L503.07 241.95 L503.91 232.11 L504.76 241.76 L505.60 242.96 L506.45 238.54 L507.30 243.04 L508.14 243.09 L508.99 235.97 L509.83 243.13 L510.68 244.43 L511.52 239.27 L512.37 219.59 L513.22 239.74 L514.06 242.75 L514.91 235.32 L515.75 242.42 L516.60 241.93 L517.45 231.15 L518.29 241.82 L519.14 238.99 L519.98 217.34 L520.83 238.71 L521.67 223.12 L522.52 238.91 L523.37 217.99 L524.21 239.49 L525.06 241.58 L525.90 229.54 L526.75 241.13 L527.60 234.01 L528.44 191.66 L529.29 233.63 L530.13 235.95 L530.98 200.32 L531.82 235.38 L532.67 232.76 L533.52 241.02 L534.36 226.98 L535.21 241.35 L536.05 244.41 L536.90 231.15 L537.75 177.53" fill="none" stroke="#9a3f78" stroke-width="1.2" stroke-linejoin="round" stroke-opacity="1.0"/>
<path d="M436.25 164.63 L437.09 185.59 L437.94 184.47 L438.78 154.22 L439.63 185.07 L440.47 188.45 L441.32 170.98 L442.17 189.15 L443.01 190.77 L443.86 178.21 L444.70 190.85 L445.55 188.52 L446.40 168.38 L447.24 188.75 L448.09 189.22 L448.93 172.43 L449.78 189.88 L450.62 193.67 L451.47 191.81 L452.32 182.83 L453.16 191.78 L454.01 189.92 L454.85 175.61 L455.70 190.34 L456.55 190.86 L457.39 180.23 L458.24 191.01 L459.08 192.09 L459.93 185.43 L460.77 191.35 L461.62 191.68 L462.47 187.46 L463.31 191.67 L464.16 190.93 L465.00 183.70 L465.85 191.55 L466.70 191.92 L467.54 188.32 L468.39 192.11 L469.23 192.37 L470.08 189.19 L470.92 192.07 L471.77 191.75 L472.62 186.88 L473.46 191.50 L474.31 191.44 L475.15 188.61 L476.00 191.89 L476.85 191.98 L477.69 189.19 L478.54 192.01 L479.38 191.84 L480.23 188.32 L481.07 191.94 L481.92 189.77 L482.77 189.72 L483.61 190.19 L484.46 190.98 L485.30 191.81 L486.15 192.35 L487.00 192.40 L487.84 191.94 L488.69 191.14 L489.53 190.31 L490.38 189.77 L491.22 189.72 L492.07 190.19 L492.92 190.98 L493.76 191.81 L494.61 192.35 L495.45 192.40 L496.30 191.94 L497.15 191.14 L497.99 190.31 L498.84 187.46 L499.68 191.40 L500.53 186.59 L501.38 191.15 L502.22 191.55 L503.07 188.03 L503.91 191.95 L504.76 191.39 L505.60 186.30 L506.45 191.59 L507.30 191.12 L508.14 182.54 L508.99 191.48 L509.83 192.00 L510.68 185.72 L511.52 192.12 L512.37 191.52 L513.22 184.57 L514.06 191.60 L514.91 191.13 L515.75 180.81 L516.60 191.62 L517.45 190.34 L518.29 174.16 L519.14 190.38 L519.98 191.76 L520.83 180.52 L521.67 191.27 L522.52 189.50 L523.37 170.12 L524.21 188.97 L525.06 188.49 L525.90 167.23 L526.75 188.68 L527.60 190.17 L528.44 177.92 L529.29 190.29 L530.13 189.74 L530.98 174.16 L531.82 189.43 L532.67 193.30 L533.52 183.94 L534.36 147.86 L535.21 184.38 L536.05 170.69 L536.90 188.35 L537.75 167.23" fill="none" stroke="#4f4fa6" stroke-width="1.2" stroke-linejoin="round" stroke-opacity="1.0"/>
</g>
<rect x="433.50" y="142.50" width="106.00" height="106.00" fill="none" stroke="#404040" stroke-width="1.05"/>
<path d="M435.40 248.50v-2.0M435.40 142.50v2.0M452.32 248.50v-2.0M452.32 142.50v2.0M469.23 248.50v-2.0M469.23 142.50v2.0M486.15 248.50v-2.0M486.15 142.50v2.0M503.07 248.50v-2.0M503.07 142.50v2.0M519.98 248.50v-2.0M519.98 142.50v2.0M536.90 248.50v-2.0M536.90 142.50v2.0M439.63 248.50v-1.0M439.63 142.50v1.0M443.86 248.50v-1.0M443.86 142.50v1.0M448.09 248.50v-1.0M448.09 142.50v1.0M456.55 248.50v-1.0M456.55 142.50v1.0M460.77 248.50v-1.0M460.77 142.50v1.0M465.00 248.50v-1.0M465.00 142.50v1.0M473.46 248.50v-1.0M473.46 142.50v1.0M477.69 248.50v-1.0M477.69 142.50v1.0M481.92 248.50v-1.0M481.92 142.50v1.0M490.38 248.50v-1.0M490.38 142.50v1.0M494.61 248.50v-1.0M494.61 142.50v1.0M498.84 248.50v-1.0M498.84 142.50v1.0M507.30 248.50v-1.0M507.30 142.50v1.0M511.52 248.50v-1.0M511.52 142.50v1.0M515.75 248.50v-1.0M515.75 142.50v1.0M524.21 248.50v-1.0M524.21 142.50v1.0M528.44 248.50v-1.0M528.44 142.50v1.0M532.67 248.50v-1.0M532.67 142.50v1.0M433.50 245.60h2.0M539.50 245.60h-2.0M433.50 220.90h2.0M539.50 220.90h-2.0M433.50 196.20h2.0M539.50 196.20h-2.0M433.50 171.50h2.0M539.50 171.50h-2.0M433.50 146.80h2.0M539.50 146.80h-2.0M433.50 240.66h1.0M539.50 240.66h-1.0M433.50 235.72h1.0M539.50 235.72h-1.0M433.50 230.78h1.0M539.50 230.78h-1.0M433.50 225.84h1.0M539.50 225.84h-1.0M433.50 215.96h1.0M539.50 215.96h-1.0M433.50 211.02h1.0M539.50 211.02h-1.0M433.50 206.08h1.0M539.50 206.08h-1.0M433.50 201.14h1.0M539.50 201.14h-1.0M433.50 191.26h1.0M539.50 191.26h-1.0M433.50 186.32h1.0M539.50 186.32h-1.0M433.50 181.38h1.0M539.50 181.38h-1.0M433.50 176.44h1.0M539.50 176.44h-1.0M433.50 166.56h1.0M539.50 166.56h-1.0M433.50 161.62h1.0M539.50 161.62h-1.0M433.50 156.68h1.0M539.50 156.68h-1.0M433.50 151.74h1.0M539.50 151.74h-1.0" stroke="#404040" stroke-width="0.4" stroke-opacity="0.8" fill="none"/>
<text x="435.40" y="255.60" font-size="6.3" text-anchor="middle" font-weight="bold" font-style="italic" fill="#262626"  stroke="#262626" stroke-width="0.3">0</text>
<text x="452.32" y="255.60" font-size="6.3" text-anchor="middle" font-weight="bold" font-style="italic" fill="#262626"  stroke="#262626" stroke-width="0.3">20</text>
<text x="469.23" y="255.60" font-size="6.3" text-anchor="middle" font-weight="bold" font-style="italic" fill="#262626"  stroke="#262626" stroke-width="0.3">40</text>
<text x="486.15" y="255.60" font-size="6.3" text-anchor="middle" font-weight="bold" font-style="italic" fill="#262626"  stroke="#262626" stroke-width="0.3">60</text>
<text x="503.07" y="255.60" font-size="6.3" text-anchor="middle" font-weight="bold" font-style="italic" fill="#262626"  stroke="#262626" stroke-width="0.3">80</text>
<text x="519.98" y="255.60" font-size="6.3" text-anchor="middle" font-weight="bold" font-style="italic" fill="#262626"  stroke="#262626" stroke-width="0.3">100</text>
<text x="536.90" y="255.60" font-size="6.3" text-anchor="middle" font-weight="bold" font-style="italic" fill="#262626"  stroke="#262626" stroke-width="0.3">120</text>
<text x="431.80" y="248.15" font-size="6.3" text-anchor="end" font-weight="bold" font-style="italic" fill="#262626"  stroke="#262626" stroke-width="0.3">0</text>
<text x="431.80" y="223.45" font-size="6.3" text-anchor="end" font-weight="bold" font-style="italic" fill="#262626"  stroke="#262626" stroke-width="0.3">10</text>
<text x="431.80" y="198.75" font-size="6.3" text-anchor="end" font-weight="bold" font-style="italic" fill="#262626"  stroke="#262626" stroke-width="0.3">20</text>
<text x="431.80" y="174.05" font-size="6.3" text-anchor="end" font-weight="bold" font-style="italic" fill="#262626"  stroke="#262626" stroke-width="0.3">30</text>
<text x="431.80" y="149.35" font-size="6.3" text-anchor="end" font-weight="bold" font-style="italic" fill="#262626"  stroke="#262626" stroke-width="0.3">40</text>
<text x="487.10" y="265.40" font-size="6.8" text-anchor="middle" font-weight="bold" font-style="italic" fill="#262626"  stroke="#262626" stroke-width="0.3">n</text>
<text x="526.30" y="161.45" font-size="10.6" text-anchor="middle" font-weight="normal" font-style="normal" fill="#505050" >(h)</text>
<text x="411.30" y="198.60" font-size="5.9" font-weight="bold" font-style="italic" fill="#262626" stroke="#262626" stroke-width="0.15">|ψ|<tspan font-size="4.0" dy="-2.6">2</tspan></text>
<clipPath id="cn"><rect x="437.3" y="282.6" width="102.40000000000003" height="101.79999999999995"/></clipPath>
<g clip-path="url(#cn)">
<path d="M440.11 359.66 L440.93 377.02 L441.74 380.19 L442.55 373.58 L443.36 380.05 L444.18 378.25 L444.99 364.94 L445.80 378.32 L446.61 378.17 L447.43 363.50 L448.24 378.30 L449.05 380.24 L449.86 375.02 L450.68 380.58 L451.49 379.84 L452.30 373.34 L453.11 380.12 L453.93 380.15 L454.74 373.10 L455.55 380.00 L456.36 380.66 L457.18 376.46 L457.99 380.86 L458.80 381.07 L459.61 377.42 L460.43 381.15 L461.24 380.52 L462.05 374.30 L462.86 380.08 L463.68 381.25 L464.49 377.90 L465.30 381.24 L466.11 381.19 L466.93 379.10 L467.74 381.58 L468.55 381.12 L469.36 378.38 L470.18 381.16 L470.99 381.37 L471.80 379.82 L472.61 381.59 L473.43 381.37 L474.24 380.30 L475.05 381.30 L475.86 381.93 L476.68 380.78 L477.49 381.37 L478.30 381.75 L479.11 381.02 L479.93 381.17 L480.74 380.78 L481.55 380.66 L482.36 380.87 L483.18 381.31 L483.99 381.83 L484.80 382.22 L485.61 382.34 L486.43 382.13 L487.24 381.69 L488.05 381.17 L488.86 380.78 L489.68 380.66 L490.49 380.87 L491.30 381.31 L492.11 381.83 L492.93 382.22 L493.74 382.34 L494.55 382.13 L495.36 381.69 L496.18 379.34 L496.99 380.67 L497.80 376.70 L498.61 381.10 L499.43 381.55 L500.24 379.10 L501.05 381.45 L501.86 380.80 L502.68 377.90 L503.49 380.89 L504.30 379.97 L505.11 372.62 L505.93 379.83 L506.74 380.73 L507.55 377.42 L508.36 380.78 L509.18 380.82 L509.99 375.50 L510.80 380.86 L511.61 381.83 L512.43 377.97 L513.24 363.26 L514.05 378.32 L514.86 380.57 L515.68 375.02 L516.49 380.32 L517.30 379.95 L518.11 371.90 L518.93 379.87 L519.74 377.76 L520.55 361.58 L521.36 377.55 L522.18 365.90 L522.99 377.70 L523.80 362.06 L524.61 378.13 L525.43 379.70 L526.24 370.70 L527.05 379.36 L527.86 374.04 L528.68 342.38 L529.49 373.76 L530.30 375.48 L531.11 348.86 L531.93 375.06 L532.74 373.10 L533.55 379.27 L534.36 368.78 L535.18 379.52 L535.99 381.81 L536.80 371.90 L537.61 331.82" fill="none" stroke="#9a3f78" stroke-width="1.2" stroke-linejoin="round" stroke-opacity="1.0"/>
<path d="M440.11 298.62 L440.93 314.95 L441.74 314.08 L442.55 290.52 L443.36 314.54 L444.18 317.17 L444.99 303.57 L445.80 317.72 L446.61 318.98 L447.43 309.20 L448.24 319.04 L449.05 317.23 L449.86 301.55 L450.68 317.41 L451.49 317.77 L452.30 304.70 L453.11 318.29 L453.93 321.24 L454.74 319.79 L455.55 312.80 L456.36 319.77 L457.18 318.32 L457.99 307.18 L458.80 318.64 L459.61 319.05 L460.43 310.77 L461.24 319.16 L462.05 320.01 L462.86 314.82 L463.68 319.43 L464.49 319.69 L465.30 316.40 L466.11 319.68 L466.93 319.11 L467.74 313.48 L468.55 319.59 L469.36 319.87 L470.18 317.07 L470.99 320.02 L471.80 320.23 L472.61 317.75 L473.43 319.99 L474.24 319.75 L475.05 315.95 L475.86 319.55 L476.68 319.50 L477.49 317.30 L478.30 319.86 L479.11 319.92 L479.93 317.75 L480.74 319.94 L481.55 319.81 L482.36 317.07 L483.18 319.89 L483.99 318.93 L484.80 318.90 L485.61 319.16 L486.43 319.62 L487.24 320.09 L488.05 320.40 L488.86 320.42 L489.68 320.16 L490.49 319.71 L491.30 319.24 L492.11 318.93 L492.93 318.90 L493.74 319.16 L494.55 319.62 L495.36 320.09 L496.18 320.40 L496.99 320.42 L497.80 320.16 L498.61 319.71 L499.43 319.24 L500.24 316.40 L501.05 319.47 L501.86 315.73 L502.68 319.28 L503.49 319.59 L504.30 316.85 L505.11 319.90 L505.93 319.46 L506.74 315.50 L507.55 319.62 L508.36 319.25 L509.18 312.57 L509.99 319.53 L510.80 319.94 L511.61 315.05 L512.43 320.03 L513.24 319.56 L514.05 314.15 L514.86 319.63 L515.68 319.26 L516.49 311.23 L517.30 319.64 L518.11 318.65 L518.93 306.05 L519.74 318.68 L520.55 319.75 L521.36 311.00 L522.18 319.37 L522.99 317.99 L523.80 302.90 L524.61 317.58 L525.43 317.21 L526.24 300.65 L527.05 317.35 L527.86 318.52 L528.68 308.98 L529.49 318.61 L530.30 318.18 L531.11 306.05 L531.93 317.93 L532.74 320.95 L533.55 313.67 L534.36 285.57 L535.18 314.01 L535.99 303.35 L536.80 317.09 L537.61 300.65" fill="none" stroke="#4f4fa6" stroke-width="1.2" stroke-linejoin="round" stroke-opacity="1.0"/>
</g>
<rect x="437.50" y="282.50" width="102.00" height="102.00" fill="none" stroke="#404040" stroke-width="1.05"/>
<path d="M439.30 384.50v-2.0M439.30 282.50v2.0M455.55 384.50v-2.0M455.55 282.50v2.0M471.80 384.50v-2.0M471.80 282.50v2.0M488.05 384.50v-2.0M488.05 282.50v2.0M504.30 384.50v-2.0M504.30 282.50v2.0M520.55 384.50v-2.0M520.55 282.50v2.0M536.80 384.50v-2.0M536.80 282.50v2.0M443.36 384.50v-1.0M443.36 282.50v1.0M447.43 384.50v-1.0M447.43 282.50v1.0M451.49 384.50v-1.0M451.49 282.50v1.0M459.61 384.50v-1.0M459.61 282.50v1.0M463.68 384.50v-1.0M463.68 282.50v1.0M467.74 384.50v-1.0M467.74 282.50v1.0M475.86 384.50v-1.0M475.86 282.50v1.0M479.93 384.50v-1.0M479.93 282.50v1.0M483.99 384.50v-1.0M483.99 282.50v1.0M492.11 384.50v-1.0M492.11 282.50v1.0M496.18 384.50v-1.0M496.18 282.50v1.0M500.24 384.50v-1.0M500.24 282.50v1.0M508.36 384.50v-1.0M508.36 282.50v1.0M512.43 384.50v-1.0M512.43 282.50v1.0M516.49 384.50v-1.0M516.49 282.50v1.0M524.61 384.50v-1.0M524.61 282.50v1.0M528.68 384.50v-1.0M528.68 282.50v1.0M532.74 384.50v-1.0M532.74 282.50v1.0M437.50 382.70h2.0M539.50 382.70h-2.0M437.50 367.70h2.0M539.50 367.70h-2.0M437.50 352.70h2.0M539.50 352.70h-2.0M437.50 337.70h2.0M539.50 337.70h-2.0M437.50 322.70h2.0M539.50 322.70h-2.0M437.50 307.70h2.0M539.50 307.70h-2.0M437.50 292.70h2.0M539.50 292.70h-2.0M437.50 379.70h1.0M539.50 379.70h-1.0M437.50 376.70h1.0M539.50 376.70h-1.0M437.50 373.70h1.0M539.50 373.70h-1.0M437.50 370.70h1.0M539.50 370.70h-1.0M437.50 364.70h1.0M539.50 364.70h-1.0M437.50 361.70h1.0M539.50 361.70h-1.0M437.50 358.70h1.0M539.50 358.70h-1.0M437.50 355.70h1.0M539.50 355.70h-1.0M437.50 349.70h1.0M539.50 349.70h-1.0M437.50 346.70h1.0M539.50 346.70h-1.0M437.50 343.70h1.0M539.50 343.70h-1.0M437.50 340.70h1.0M539.50 340.70h-1.0M437.50 334.70h1.0M539.50 334.70h-1.0M437.50 331.70h1.0M539.50 331.70h-1.0M437.50 328.70h1.0M539.50 328.70h-1.0M437.50 325.70h1.0M539.50 325.70h-1.0M437.50 319.70h1.0M539.50 319.70h-1.0M437.50 316.70h1.0M539.50 316.70h-1.0M437.50 313.70h1.0M539.50 313.70h-1.0M437.50 310.70h1.0M539.50 310.70h-1.0M437.50 304.70h1.0M539.50 304.70h-1.0M437.50 301.70h1.0M539.50 301.70h-1.0M437.50 298.70h1.0M539.50 298.70h-1.0M437.50 295.70h1.0M539.50 295.70h-1.0M437.50 289.70h1.0M539.50 289.70h-1.0M437.50 286.70h1.0M539.50 286.70h-1.0M437.50 283.70h1.0M539.50 283.70h-1.0" stroke="#404040" stroke-width="0.4" stroke-opacity="0.8" fill="none"/>
<text x="439.30" y="391.70" font-size="6.3" text-anchor="middle" font-weight="bold" font-style="italic" fill="#262626"  stroke="#262626" stroke-width="0.3">0</text>
<text x="455.55" y="391.70" font-size="6.3" text-anchor="middle" font-weight="bold" font-style="italic" fill="#262626"  stroke="#262626" stroke-width="0.3">20</text>
<text x="471.80" y="391.70" font-size="6.3" text-anchor="middle" font-weight="bold" font-style="italic" fill="#262626"  stroke="#262626" stroke-width="0.3">40</text>
<text x="488.05" y="391.70" font-size="6.3" text-anchor="middle" font-weight="bold" font-style="italic" fill="#262626"  stroke="#262626" stroke-width="0.3">60</text>
<text x="504.30" y="391.70" font-size="6.3" text-anchor="middle" font-weight="bold" font-style="italic" fill="#262626"  stroke="#262626" stroke-width="0.3">80</text>
<text x="520.55" y="391.70" font-size="6.3" text-anchor="middle" font-weight="bold" font-style="italic" fill="#262626"  stroke="#262626" stroke-width="0.3">100</text>
<text x="536.80" y="391.70" font-size="6.3" text-anchor="middle" font-weight="bold" font-style="italic" fill="#262626"  stroke="#262626" stroke-width="0.3">120</text>
<text x="435.70" y="385.25" font-size="6.3" text-anchor="end" font-weight="bold" font-style="italic" fill="#262626"  stroke="#262626" stroke-width="0.3">0</text>
<text x="435.70" y="370.25" font-size="6.3" text-anchor="end" font-weight="bold" font-style="italic" fill="#262626"  stroke="#262626" stroke-width="0.3">100</text>
<text x="435.70" y="355.25" font-size="6.3" text-anchor="end" font-weight="bold" font-style="italic" fill="#262626"  stroke="#262626" stroke-width="0.3">200</text>
<text x="435.70" y="340.25" font-size="6.3" text-anchor="end" font-weight="bold" font-style="italic" fill="#262626"  stroke="#262626" stroke-width="0.3">300</text>
<text x="435.70" y="325.25" font-size="6.3" text-anchor="end" font-weight="bold" font-style="italic" fill="#262626"  stroke="#262626" stroke-width="0.3">400</text>
<text x="435.70" y="310.25" font-size="6.3" text-anchor="end" font-weight="bold" font-style="italic" fill="#262626"  stroke="#262626" stroke-width="0.3">500</text>
<text x="435.70" y="295.25" font-size="6.3" text-anchor="end" font-weight="bold" font-style="italic" fill="#262626"  stroke="#262626" stroke-width="0.3">600</text>
<text x="489.00" y="401.50" font-size="6.8" text-anchor="middle" font-weight="bold" font-style="italic" fill="#262626"  stroke="#262626" stroke-width="0.3">n</text>
<text x="525.00" y="295.45" font-size="10.6" text-anchor="middle" font-weight="normal" font-style="normal" fill="#505050" >(n)</text>
<text x="410.90" y="337.00" font-size="5.9" font-weight="bold" font-style="italic" fill="#262626" stroke="#262626" stroke-width="0.15">|ψ|<tspan font-size="4.0" dy="-2.6">2</tspan></text>
<clipPath id="cl"><rect x="167.4" y="282.7" width="102.4" height="102.0"/></clipPath>
<g clip-path="url(#cl)">
<path d="M170.21 381.92 L171.03 363.25 L171.84 381.92 L172.65 367.72 L173.46 381.92 L174.28 368.61 L175.09 381.92 L175.90 368.75 L176.71 381.92 L177.53 368.90 L178.34 380.85 L179.15 371.35 L179.96 379.77 L180.78 376.11 L181.59 379.77 L182.40 376.05 L183.21 379.77 L184.03 375.98 L184.84 379.77 L185.65 375.92 L186.46 379.77 L187.28 375.85 L188.09 380.52 L188.90 375.79 L189.71 382.01 L190.53 375.88 L191.34 382.02 L192.15 376.11 L192.96 382.04 L193.78 376.49 L194.59 382.06 L195.40 376.87 L196.21 382.07 L197.03 377.24 L197.84 382.09 L198.65 377.62 L199.46 382.11 L200.28 377.94 L201.09 382.12 L201.90 378.21 L202.71 382.14 L203.53 378.48 L204.34 382.16 L205.15 378.75 L205.96 382.17 L206.78 379.02 L207.59 382.19 L208.40 379.28 L209.21 382.21 L210.03 379.55 L210.84 382.22 L211.65 379.82 L212.46 382.24 L213.28 380.09 L214.09 382.26 L214.90 380.35" fill="none" stroke="#9a3f78" stroke-width="1.45" stroke-linejoin="round" stroke-opacity="1.0"/>
<path d="M214.90 380.35 L215.71 382.27 L216.53 380.62 L217.34 382.29 L218.15 380.80 L218.96 382.31 L219.78 380.87 L220.59 382.32 L221.40 380.95 L222.21 382.34 L223.03 381.02 L223.84 382.35 L224.65 381.10 L225.46 382.37 L226.28 381.18 L227.09 382.39 L227.90 381.25 L228.71 382.40 L229.53 381.33 L230.34 382.42 L231.15 381.41 L231.96 382.44 L232.78 381.48 L233.59 382.45 L234.40 381.56 L235.21 382.47 L236.03 381.60 L236.84 382.49 L237.65 381.64 L238.46 382.50 L239.28 381.68 L240.09 382.52 L240.90 381.71 L241.71 382.54 L242.53 381.75 L243.34 382.55 L244.15 381.79 L244.96 382.57 L245.78 381.83 L246.59 382.59 L247.40 381.87 L248.21 382.60 L249.03 381.90 L249.84 382.62 L250.65 381.94 L251.46 382.64 L252.28 381.98 L253.09 382.65 L253.90 382.02 L254.71 382.67 L255.53 382.06 L256.34 382.69 L257.15 382.10 L257.96 382.70 L258.78 382.13 L259.59 382.72 L260.40 382.17 L261.21 382.74 L262.03 382.21 L262.84 382.75 L263.65 382.25 L264.46 382.77 L265.28 382.29 L266.09 382.79 L266.90 382.33 L267.71 382.80 L268.53 382.36" fill="none" stroke="#9a3f78" stroke-width="1.05" stroke-linejoin="round" stroke-opacity="1.0"/>
<path d="M170.21 310.30 L171.03 285.56 L171.84 310.21 L172.65 285.56 L173.46 310.12 L174.28 290.47 L175.09 308.04 L175.90 296.58 L176.71 306.44 L177.53 298.96 L178.34 305.32 L179.15 300.36 L179.96 304.58 L180.78 301.76 L181.59 304.23 L182.40 303.17 L183.21 303.87 L184.03 303.55 L184.84 307.74 L185.65 302.91 L186.46 310.01 L187.28 302.27 L188.09 310.68 L188.90 301.64 L189.71 311.00 L190.53 302.03 L191.34 310.96 L192.15 302.43 L192.96 310.93 L193.78 302.83 L194.59 310.90 L195.40 303.22 L196.21 310.86 L197.03 303.87 L197.84 310.83 L198.65 304.76 L199.46 310.80 L200.28 305.66 L201.09 310.76 L201.90 306.30 L202.71 310.75 L203.53 306.70 L204.34 310.77 L205.15 307.09 L205.96 310.79 L206.78 307.49 L207.59 310.81 L208.40 307.89 L209.21 310.83 L210.03 308.19 L210.84 310.85 L211.65 308.48 L212.46 310.87 L213.28 308.78 L214.09 310.89 L214.90 309.08" fill="none" stroke="#4f4fa6" stroke-width="1.45" stroke-linejoin="round" stroke-opacity="1.0"/>
<path d="M214.90 309.08 L215.71 310.91 L216.53 309.24 L217.34 310.94 L218.15 309.25 L218.96 310.96 L219.78 309.27 L220.59 310.98 L221.40 309.28 L222.21 311.00 L223.03 309.30 L223.84 311.02 L224.65 309.32 L225.46 311.05 L226.28 309.62 L227.09 311.07 L227.90 309.93 L228.71 311.09 L229.53 310.24 L230.34 311.11 L231.15 310.34 L231.96 311.14 L232.78 310.25 L233.59 311.16 L234.40 310.17 L235.21 311.18 L236.03 310.08 L236.84 311.20 L237.65 309.99 L238.46 311.23 L239.28 309.90 L240.09 311.25 L240.90 309.89 L241.71 311.27 L242.53 309.96 L243.34 311.29 L244.15 310.04 L244.96 311.31 L245.78 310.11 L246.59 311.34 L247.40 310.19 L248.21 311.36 L249.03 310.26 L249.84 311.38 L250.65 310.34 L251.46 311.40 L252.28 310.43 L253.09 311.43 L253.90 310.51 L254.71 311.45 L255.53 310.60 L256.34 311.47 L257.15 310.68 L257.96 311.49 L258.78 310.77 L259.59 311.52 L260.40 310.85 L261.21 311.54 L262.03 310.94 L262.84 311.56 L263.65 311.03 L264.46 311.58 L265.28 311.11 L266.09 311.61 L266.90 311.20 L267.71 311.63 L268.53 311.28" fill="none" stroke="#4f4fa6" stroke-width="1.05" stroke-linejoin="round" stroke-opacity="1.0"/>
</g>
<rect x="167.50" y="282.50" width="102.00" height="102.00" fill="none" stroke="#404040" stroke-width="1.05"/>
<path d="M169.40 384.50v-2.0M169.40 282.50v2.0M185.65 384.50v-2.0M185.65 282.50v2.0M201.90 384.50v-2.0M201.90 282.50v2.0M218.15 384.50v-2.0M218.15 282.50v2.0M234.40 384.50v-2.0M234.40 282.50v2.0M250.65 384.50v-2.0M250.65 282.50v2.0M266.90 384.50v-2.0M266.90 282.50v2.0M173.46 384.50v-1.0M173.46 282.50v1.0M177.53 384.50v-1.0M177.53 282.50v1.0M181.59 384.50v-1.0M181.59 282.50v1.0M189.71 384.50v-1.0M189.71 282.50v1.0M193.78 384.50v-1.0M193.78 282.50v1.0M197.84 384.50v-1.0M197.84 282.50v1.0M205.96 384.50v-1.0M205.96 282.50v1.0M210.03 384.50v-1.0M210.03 282.50v1.0M214.09 384.50v-1.0M214.09 282.50v1.0M222.21 384.50v-1.0M222.21 282.50v1.0M226.28 384.50v-1.0M226.28 282.50v1.0M230.34 384.50v-1.0M230.34 282.50v1.0M238.46 384.50v-1.0M238.46 282.50v1.0M242.53 384.50v-1.0M242.53 282.50v1.0M246.59 384.50v-1.0M246.59 282.50v1.0M254.71 384.50v-1.0M254.71 282.50v1.0M258.78 384.50v-1.0M258.78 282.50v1.0M262.84 384.50v-1.0M262.84 282.50v1.0M167.50 382.90h2.0M269.50 382.90h-2.0M167.50 365.04h2.0M269.50 365.04h-2.0M167.50 347.18h2.0M269.50 347.18h-2.0M167.50 329.32h2.0M269.50 329.32h-2.0M167.50 311.46h2.0M269.50 311.46h-2.0M167.50 293.60h2.0M269.50 293.60h-2.0M167.50 378.44h1.0M269.50 378.44h-1.0M167.50 373.97h1.0M269.50 373.97h-1.0M167.50 369.50h1.0M269.50 369.50h-1.0M167.50 360.57h1.0M269.50 360.57h-1.0M167.50 356.11h1.0M269.50 356.11h-1.0M167.50 351.64h1.0M269.50 351.64h-1.0M167.50 342.71h1.0M269.50 342.71h-1.0M167.50 338.25h1.0M269.50 338.25h-1.0M167.50 333.78h1.0M269.50 333.78h-1.0M167.50 324.85h1.0M269.50 324.85h-1.0M167.50 320.39h1.0M269.50 320.39h-1.0M167.50 315.92h1.0M269.50 315.92h-1.0M167.50 307.00h1.0M269.50 307.00h-1.0M167.50 302.53h1.0M269.50 302.53h-1.0M167.50 298.06h1.0M269.50 298.06h-1.0M167.50 289.13h1.0M269.50 289.13h-1.0M167.50 284.67h1.0M269.50 284.67h-1.0" stroke="#404040" stroke-width="0.4" stroke-opacity="0.8" fill="none"/>
<text x="169.40" y="392.00" font-size="6.3" text-anchor="middle" font-weight="bold" font-style="italic" fill="#262626"  stroke="#262626" stroke-width="0.3">0</text>
<text x="185.65" y="392.00" font-size="6.3" text-anchor="middle" font-weight="bold" font-style="italic" fill="#262626"  stroke="#262626" stroke-width="0.3">20</text>
<text x="201.90" y="392.00" font-size="6.3" text-anchor="middle" font-weight="bold" font-style="italic" fill="#262626"  stroke="#262626" stroke-width="0.3">40</text>
<text x="218.15" y="392.00" font-size="6.3" text-anchor="middle" font-weight="bold" font-style="italic" fill="#262626"  stroke="#262626" stroke-width="0.3">60</text>
<text x="234.40" y="392.00" font-size="6.3" text-anchor="middle" font-weight="bold" font-style="italic" fill="#262626"  stroke="#262626" stroke-width="0.3">80</text>
<text x="250.65" y="392.00" font-size="6.3" text-anchor="middle" font-weight="bold" font-style="italic" fill="#262626"  stroke="#262626" stroke-width="0.3">100</text>
<text x="266.90" y="392.00" font-size="6.3" text-anchor="middle" font-weight="bold" font-style="italic" fill="#262626"  stroke="#262626" stroke-width="0.3">120</text>
<text x="165.80" y="385.45" font-size="6.3" text-anchor="end" font-weight="bold" font-style="italic" fill="#262626"  stroke="#262626" stroke-width="0.3">0</text>
<text x="165.80" y="367.59" font-size="6.3" text-anchor="end" font-weight="bold" font-style="italic" fill="#262626"  stroke="#262626" stroke-width="0.3">20</text>
<text x="165.80" y="349.73" font-size="6.3" text-anchor="end" font-weight="bold" font-style="italic" fill="#262626"  stroke="#262626" stroke-width="0.3">40</text>
<text x="165.80" y="331.87" font-size="6.3" text-anchor="end" font-weight="bold" font-style="italic" fill="#262626"  stroke="#262626" stroke-width="0.3">60</text>
<text x="165.80" y="314.01" font-size="6.3" text-anchor="end" font-weight="bold" font-style="italic" fill="#262626"  stroke="#262626" stroke-width="0.3">80</text>
<text x="165.80" y="296.15" font-size="6.3" text-anchor="end" font-weight="bold" font-style="italic" fill="#262626"  stroke="#262626" stroke-width="0.3">100</text>
<text x="219.10" y="401.80" font-size="6.8" text-anchor="middle" font-weight="bold" font-style="italic" fill="#262626"  stroke="#262626" stroke-width="0.3">n</text>
<text x="255.30" y="298.65" font-size="10.6" text-anchor="middle" font-weight="normal" font-style="normal" fill="#505050" >(l)</text>
<text x="141.60" y="337.00" font-size="5.9" font-weight="bold" font-style="italic" fill="#262626" stroke="#262626" stroke-width="0.15">|ψ|<tspan font-size="4.0" dy="-2.6">2</tspan></text>
</svg></body></html>
